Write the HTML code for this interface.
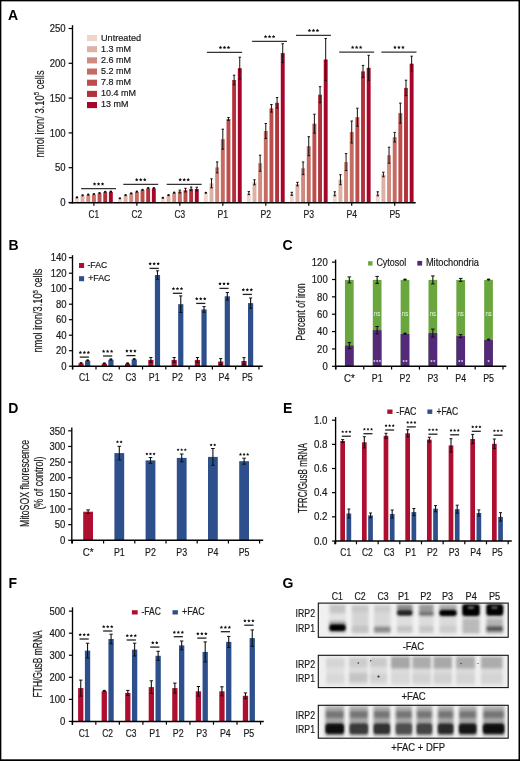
<!DOCTYPE html><html><head><meta charset="utf-8"><style>html,body{margin:0;padding:0;background:#fff;overflow:hidden}svg{display:block;will-change:transform}</style></head><body>
<svg width="520" height="761" viewBox="0 0 520 761" font-family="'Liberation Sans', sans-serif">
<defs><filter id="b1" x="-30%" y="-50%" width="160%" height="200%"><feGaussianBlur stdDeviation="1.6"/></filter><filter id="b3" x="-30%" y="-80%" width="160%" height="260%"><feGaussianBlur stdDeviation="0.9"/></filter><filter id="b2" x="-30%" y="-50%" width="160%" height="200%"><feGaussianBlur stdDeviation="0.8"/></filter></defs>
<rect x="0.00" y="0.00" width="520.00" height="761.00" fill="#fff"/>
<rect x="0.00" y="0.00" width="520.00" height="1.35" fill="#000"/>
<rect x="0.00" y="0.00" width="1.35" height="761.00" fill="#000"/>
<rect x="518.50" y="0.00" width="1.50" height="761.00" fill="#000"/>
<rect x="0.00" y="759.30" width="520.00" height="1.70" fill="#000"/>
<text x="8.00" y="19.60" font-size="14.0" font-weight="bold" fill="#000">A</text>
<text x="8.60" y="249.60" font-size="14.0" font-weight="bold" fill="#000">B</text>
<text x="282.60" y="249.80" font-size="14.0" font-weight="bold" fill="#000">C</text>
<text x="8.20" y="413.30" font-size="14.0" font-weight="bold" fill="#000">D</text>
<text x="283.00" y="413.30" font-size="14.0" font-weight="bold" fill="#000">E</text>
<text x="8.60" y="588.00" font-size="14.0" font-weight="bold" fill="#000">F</text>
<text x="282.40" y="588.20" font-size="14.0" font-weight="bold" fill="#000">G</text>
<line x1="68.60" y1="202.50" x2="72.00" y2="202.50" stroke="#000" stroke-width="1.2"/>
<text x="65.60" y="206.20" font-size="10.6" text-anchor="end" textLength="5.30" lengthAdjust="spacingAndGlyphs" fill="#1a1a1a" stroke="#1a1a1a" stroke-width="0.2">0</text>
<line x1="68.60" y1="167.70" x2="72.00" y2="167.70" stroke="#000" stroke-width="1.2"/>
<text x="65.60" y="171.40" font-size="10.6" text-anchor="end" textLength="10.60" lengthAdjust="spacingAndGlyphs" fill="#1a1a1a" stroke="#1a1a1a" stroke-width="0.2">50</text>
<line x1="68.60" y1="132.90" x2="72.00" y2="132.90" stroke="#000" stroke-width="1.2"/>
<text x="65.60" y="136.60" font-size="10.6" text-anchor="end" textLength="15.90" lengthAdjust="spacingAndGlyphs" fill="#1a1a1a" stroke="#1a1a1a" stroke-width="0.2">100</text>
<line x1="68.60" y1="98.10" x2="72.00" y2="98.10" stroke="#000" stroke-width="1.2"/>
<text x="65.60" y="101.80" font-size="10.6" text-anchor="end" textLength="15.90" lengthAdjust="spacingAndGlyphs" fill="#1a1a1a" stroke="#1a1a1a" stroke-width="0.2">150</text>
<line x1="68.60" y1="63.30" x2="72.00" y2="63.30" stroke="#000" stroke-width="1.2"/>
<text x="65.60" y="67.00" font-size="10.6" text-anchor="end" textLength="15.90" lengthAdjust="spacingAndGlyphs" fill="#1a1a1a" stroke="#1a1a1a" stroke-width="0.2">200</text>
<line x1="68.60" y1="28.50" x2="72.00" y2="28.50" stroke="#000" stroke-width="1.2"/>
<text x="65.60" y="32.20" font-size="10.6" text-anchor="end" textLength="15.90" lengthAdjust="spacingAndGlyphs" fill="#1a1a1a" stroke="#1a1a1a" stroke-width="0.2">250</text>
<line x1="93.90" y1="202.50" x2="93.90" y2="205.70" stroke="#000" stroke-width="1.2"/>
<text x="93.90" y="218.00" font-size="10.8" text-anchor="middle" textLength="10.60" lengthAdjust="spacingAndGlyphs" fill="#1a1a1a" stroke="#1a1a1a" stroke-width="0.2">C1</text>
<rect x="75.00" y="197.70" width="3.90" height="4.80" fill="#f0d5cc"/>
<ellipse cx="76.95" cy="197.40" rx="1.30" ry="1.15" fill="#111"/>
<rect x="80.65" y="195.60" width="3.90" height="6.90" fill="#deb1a6"/>
<ellipse cx="82.60" cy="195.30" rx="1.30" ry="1.15" fill="#111"/>
<rect x="86.30" y="195.00" width="3.90" height="7.50" fill="#d08b7e"/>
<ellipse cx="88.25" cy="194.70" rx="1.30" ry="1.15" fill="#111"/>
<rect x="91.95" y="194.40" width="3.90" height="8.10" fill="#c56b62"/>
<ellipse cx="93.90" cy="194.10" rx="1.30" ry="1.15" fill="#111"/>
<rect x="97.60" y="193.40" width="3.90" height="9.10" fill="#bc4d4b"/>
<ellipse cx="99.55" cy="193.10" rx="1.30" ry="1.15" fill="#111"/>
<rect x="103.25" y="192.20" width="3.90" height="10.30" fill="#b1323c"/>
<ellipse cx="105.20" cy="191.90" rx="1.30" ry="1.15" fill="#111"/>
<rect x="108.90" y="191.90" width="3.90" height="10.60" fill="#a8052b"/>
<ellipse cx="110.85" cy="191.60" rx="1.30" ry="1.15" fill="#111"/>
<line x1="81.10" y1="188.70" x2="116.00" y2="188.70" stroke="#333" stroke-width="1.3"/>
<polygon points="94.55,182.15 95.09,183.25 96.31,183.43 95.43,184.29 95.64,185.50 94.55,184.93 93.46,185.50 93.67,184.29 92.79,183.43 94.01,183.25" fill="#111"/>
<polygon points="98.55,182.15 99.09,183.25 100.31,183.43 99.43,184.29 99.64,185.50 98.55,184.93 97.46,185.50 97.67,184.29 96.79,183.43 98.01,183.25" fill="#111"/>
<polygon points="102.55,182.15 103.09,183.25 104.31,183.43 103.43,184.29 103.64,185.50 102.55,184.93 101.46,185.50 101.67,184.29 100.79,183.43 102.01,183.25" fill="#111"/>
<line x1="136.87" y1="202.50" x2="136.87" y2="205.70" stroke="#000" stroke-width="1.2"/>
<text x="136.87" y="218.00" font-size="10.8" text-anchor="middle" textLength="10.60" lengthAdjust="spacingAndGlyphs" fill="#1a1a1a" stroke="#1a1a1a" stroke-width="0.2">C2</text>
<rect x="117.97" y="198.60" width="3.90" height="3.90" fill="#f0d5cc"/>
<ellipse cx="119.92" cy="198.30" rx="1.30" ry="1.15" fill="#111"/>
<rect x="123.62" y="195.50" width="3.90" height="7.00" fill="#deb1a6"/>
<ellipse cx="125.57" cy="195.20" rx="1.30" ry="1.15" fill="#111"/>
<rect x="129.27" y="193.70" width="3.90" height="8.80" fill="#d08b7e"/>
<ellipse cx="131.22" cy="193.40" rx="1.30" ry="1.15" fill="#111"/>
<rect x="134.92" y="192.00" width="3.90" height="10.50" fill="#c56b62"/>
<ellipse cx="136.87" cy="191.70" rx="1.30" ry="1.15" fill="#111"/>
<rect x="140.57" y="190.20" width="3.90" height="12.30" fill="#bc4d4b"/>
<ellipse cx="142.52" cy="189.90" rx="1.30" ry="1.15" fill="#111"/>
<rect x="146.22" y="188.40" width="3.90" height="14.10" fill="#b1323c"/>
<ellipse cx="148.17" cy="188.10" rx="1.30" ry="1.15" fill="#111"/>
<rect x="151.87" y="188.40" width="3.90" height="14.10" fill="#a8052b"/>
<ellipse cx="153.82" cy="188.10" rx="1.30" ry="1.15" fill="#111"/>
<line x1="123.30" y1="184.40" x2="158.20" y2="184.40" stroke="#333" stroke-width="1.3"/>
<polygon points="136.75,177.85 137.29,178.95 138.51,179.13 137.63,179.99 137.84,181.20 136.75,180.63 135.66,181.20 135.87,179.99 134.99,179.13 136.21,178.95" fill="#111"/>
<polygon points="140.75,177.85 141.29,178.95 142.51,179.13 141.63,179.99 141.84,181.20 140.75,180.63 139.66,181.20 139.87,179.99 138.99,179.13 140.21,178.95" fill="#111"/>
<polygon points="144.75,177.85 145.29,178.95 146.51,179.13 145.63,179.99 145.84,181.20 144.75,180.63 143.66,181.20 143.87,179.99 142.99,179.13 144.21,178.95" fill="#111"/>
<line x1="179.84" y1="202.50" x2="179.84" y2="205.70" stroke="#000" stroke-width="1.2"/>
<text x="179.84" y="218.00" font-size="10.8" text-anchor="middle" textLength="10.60" lengthAdjust="spacingAndGlyphs" fill="#1a1a1a" stroke="#1a1a1a" stroke-width="0.2">C3</text>
<rect x="160.94" y="198.10" width="3.90" height="4.40" fill="#f0d5cc"/>
<ellipse cx="162.89" cy="197.80" rx="1.30" ry="1.15" fill="#111"/>
<rect x="166.59" y="195.50" width="3.90" height="7.00" fill="#deb1a6"/>
<ellipse cx="168.54" cy="195.20" rx="1.30" ry="1.15" fill="#111"/>
<rect x="172.24" y="193.00" width="3.90" height="9.50" fill="#d08b7e"/>
<ellipse cx="174.19" cy="192.70" rx="1.30" ry="1.15" fill="#111"/>
<rect x="177.89" y="191.50" width="3.90" height="11.00" fill="#c56b62"/>
<line x1="179.84" y1="190.10" x2="179.84" y2="192.90" stroke="#111" stroke-width="1.0"/>
<line x1="178.64" y1="190.10" x2="181.04" y2="190.10" stroke="#111" stroke-width="1.0"/>
<line x1="178.64" y1="192.90" x2="181.04" y2="192.90" stroke="#111" stroke-width="1.0"/>
<rect x="183.54" y="190.10" width="3.90" height="12.40" fill="#bc4d4b"/>
<line x1="185.49" y1="188.30" x2="185.49" y2="191.90" stroke="#111" stroke-width="1.0"/>
<line x1="184.29" y1="188.30" x2="186.69" y2="188.30" stroke="#111" stroke-width="1.0"/>
<line x1="184.29" y1="191.90" x2="186.69" y2="191.90" stroke="#111" stroke-width="1.0"/>
<rect x="189.19" y="188.80" width="3.90" height="13.70" fill="#b1323c"/>
<line x1="191.14" y1="187.00" x2="191.14" y2="190.60" stroke="#111" stroke-width="1.0"/>
<line x1="189.94" y1="187.00" x2="192.34" y2="187.00" stroke="#111" stroke-width="1.0"/>
<line x1="189.94" y1="190.60" x2="192.34" y2="190.60" stroke="#111" stroke-width="1.0"/>
<rect x="194.84" y="189.00" width="3.90" height="13.50" fill="#a8052b"/>
<line x1="196.79" y1="187.20" x2="196.79" y2="190.80" stroke="#111" stroke-width="1.0"/>
<line x1="195.59" y1="187.20" x2="197.99" y2="187.20" stroke="#111" stroke-width="1.0"/>
<line x1="195.59" y1="190.80" x2="197.99" y2="190.80" stroke="#111" stroke-width="1.0"/>
<line x1="166.70" y1="184.40" x2="201.70" y2="184.40" stroke="#333" stroke-width="1.3"/>
<polygon points="180.20,177.85 180.74,178.95 181.96,179.13 181.08,179.99 181.29,181.20 180.20,180.63 179.11,181.20 179.32,179.99 178.44,179.13 179.66,178.95" fill="#111"/>
<polygon points="184.20,177.85 184.74,178.95 185.96,179.13 185.08,179.99 185.29,181.20 184.20,180.63 183.11,181.20 183.32,179.99 182.44,179.13 183.66,178.95" fill="#111"/>
<polygon points="188.20,177.85 188.74,178.95 189.96,179.13 189.08,179.99 189.29,181.20 188.20,180.63 187.11,181.20 187.32,179.99 186.44,179.13 187.66,178.95" fill="#111"/>
<line x1="222.81" y1="202.50" x2="222.81" y2="205.70" stroke="#000" stroke-width="1.2"/>
<text x="222.81" y="218.00" font-size="10.8" text-anchor="middle" textLength="10.60" lengthAdjust="spacingAndGlyphs" fill="#1a1a1a" stroke="#1a1a1a" stroke-width="0.2">P1</text>
<rect x="203.91" y="193.10" width="3.90" height="9.40" fill="#f0d5cc"/>
<ellipse cx="205.86" cy="192.80" rx="1.30" ry="1.15" fill="#111"/>
<rect x="209.56" y="183.30" width="3.90" height="19.20" fill="#deb1a6"/>
<line x1="211.51" y1="178.80" x2="211.51" y2="187.80" stroke="#111" stroke-width="1.0"/>
<line x1="210.31" y1="178.80" x2="212.71" y2="178.80" stroke="#111" stroke-width="1.0"/>
<line x1="210.31" y1="187.80" x2="212.71" y2="187.80" stroke="#111" stroke-width="1.0"/>
<rect x="215.21" y="167.40" width="3.90" height="35.10" fill="#d08b7e"/>
<line x1="217.16" y1="161.90" x2="217.16" y2="172.90" stroke="#111" stroke-width="1.0"/>
<line x1="215.96" y1="161.90" x2="218.36" y2="161.90" stroke="#111" stroke-width="1.0"/>
<line x1="215.96" y1="172.90" x2="218.36" y2="172.90" stroke="#111" stroke-width="1.0"/>
<rect x="220.86" y="139.20" width="3.90" height="63.30" fill="#c56b62"/>
<line x1="222.81" y1="129.20" x2="222.81" y2="149.20" stroke="#111" stroke-width="1.0"/>
<line x1="221.61" y1="129.20" x2="224.01" y2="129.20" stroke="#111" stroke-width="1.0"/>
<line x1="221.61" y1="149.20" x2="224.01" y2="149.20" stroke="#111" stroke-width="1.0"/>
<rect x="226.51" y="119.00" width="3.90" height="83.50" fill="#bc4d4b"/>
<line x1="228.46" y1="117.50" x2="228.46" y2="120.50" stroke="#111" stroke-width="1.0"/>
<line x1="227.26" y1="117.50" x2="229.66" y2="117.50" stroke="#111" stroke-width="1.0"/>
<line x1="227.26" y1="120.50" x2="229.66" y2="120.50" stroke="#111" stroke-width="1.0"/>
<rect x="232.16" y="80.00" width="3.90" height="122.50" fill="#b1323c"/>
<line x1="234.11" y1="75.20" x2="234.11" y2="84.80" stroke="#111" stroke-width="1.0"/>
<line x1="232.91" y1="75.20" x2="235.31" y2="75.20" stroke="#111" stroke-width="1.0"/>
<line x1="232.91" y1="84.80" x2="235.31" y2="84.80" stroke="#111" stroke-width="1.0"/>
<rect x="237.81" y="68.20" width="3.90" height="134.30" fill="#a8052b"/>
<line x1="239.76" y1="57.20" x2="239.76" y2="79.20" stroke="#111" stroke-width="1.0"/>
<line x1="238.56" y1="57.20" x2="240.96" y2="57.20" stroke="#111" stroke-width="1.0"/>
<line x1="238.56" y1="79.20" x2="240.96" y2="79.20" stroke="#111" stroke-width="1.0"/>
<line x1="206.90" y1="52.30" x2="242.10" y2="52.30" stroke="#333" stroke-width="1.3"/>
<polygon points="220.50,45.75 221.04,46.85 222.26,47.03 221.38,47.89 221.59,49.10 220.50,48.52 219.41,49.10 219.62,47.89 218.74,47.03 219.96,46.85" fill="#111"/>
<polygon points="224.50,45.75 225.04,46.85 226.26,47.03 225.38,47.89 225.59,49.10 224.50,48.52 223.41,49.10 223.62,47.89 222.74,47.03 223.96,46.85" fill="#111"/>
<polygon points="228.50,45.75 229.04,46.85 230.26,47.03 229.38,47.89 229.59,49.10 228.50,48.52 227.41,49.10 227.62,47.89 226.74,47.03 227.96,46.85" fill="#111"/>
<line x1="265.78" y1="202.50" x2="265.78" y2="205.70" stroke="#000" stroke-width="1.2"/>
<text x="265.78" y="218.00" font-size="10.8" text-anchor="middle" textLength="10.60" lengthAdjust="spacingAndGlyphs" fill="#1a1a1a" stroke="#1a1a1a" stroke-width="0.2">P2</text>
<rect x="246.88" y="193.10" width="3.90" height="9.40" fill="#f0d5cc"/>
<line x1="248.83" y1="191.60" x2="248.83" y2="194.60" stroke="#111" stroke-width="1.0"/>
<line x1="247.63" y1="191.60" x2="250.03" y2="191.60" stroke="#111" stroke-width="1.0"/>
<line x1="247.63" y1="194.60" x2="250.03" y2="194.60" stroke="#111" stroke-width="1.0"/>
<rect x="252.53" y="182.30" width="3.90" height="20.20" fill="#deb1a6"/>
<line x1="254.48" y1="179.80" x2="254.48" y2="184.80" stroke="#111" stroke-width="1.0"/>
<line x1="253.28" y1="179.80" x2="255.68" y2="179.80" stroke="#111" stroke-width="1.0"/>
<line x1="253.28" y1="184.80" x2="255.68" y2="184.80" stroke="#111" stroke-width="1.0"/>
<rect x="258.18" y="163.20" width="3.90" height="39.30" fill="#d08b7e"/>
<line x1="260.13" y1="155.20" x2="260.13" y2="171.20" stroke="#111" stroke-width="1.0"/>
<line x1="258.93" y1="155.20" x2="261.33" y2="155.20" stroke="#111" stroke-width="1.0"/>
<line x1="258.93" y1="171.20" x2="261.33" y2="171.20" stroke="#111" stroke-width="1.0"/>
<rect x="263.83" y="131.00" width="3.90" height="71.50" fill="#c56b62"/>
<line x1="265.78" y1="123.50" x2="265.78" y2="138.50" stroke="#111" stroke-width="1.0"/>
<line x1="264.58" y1="123.50" x2="266.98" y2="123.50" stroke="#111" stroke-width="1.0"/>
<line x1="264.58" y1="138.50" x2="266.98" y2="138.50" stroke="#111" stroke-width="1.0"/>
<rect x="269.48" y="108.30" width="3.90" height="94.20" fill="#bc4d4b"/>
<line x1="271.43" y1="104.50" x2="271.43" y2="112.10" stroke="#111" stroke-width="1.0"/>
<line x1="270.23" y1="104.50" x2="272.63" y2="104.50" stroke="#111" stroke-width="1.0"/>
<line x1="270.23" y1="112.10" x2="272.63" y2="112.10" stroke="#111" stroke-width="1.0"/>
<rect x="275.13" y="102.80" width="3.90" height="99.70" fill="#b1323c"/>
<line x1="277.08" y1="97.50" x2="277.08" y2="108.10" stroke="#111" stroke-width="1.0"/>
<line x1="275.88" y1="97.50" x2="278.28" y2="97.50" stroke="#111" stroke-width="1.0"/>
<line x1="275.88" y1="108.10" x2="278.28" y2="108.10" stroke="#111" stroke-width="1.0"/>
<rect x="280.78" y="53.10" width="3.90" height="149.40" fill="#a8052b"/>
<line x1="282.73" y1="43.70" x2="282.73" y2="62.50" stroke="#111" stroke-width="1.0"/>
<line x1="281.53" y1="43.70" x2="283.93" y2="43.70" stroke="#111" stroke-width="1.0"/>
<line x1="281.53" y1="62.50" x2="283.93" y2="62.50" stroke="#111" stroke-width="1.0"/>
<line x1="252.10" y1="41.40" x2="287.00" y2="41.40" stroke="#333" stroke-width="1.3"/>
<polygon points="265.55,34.85 266.09,35.95 267.31,36.13 266.43,36.99 266.64,38.20 265.55,37.62 264.46,38.20 264.67,36.99 263.79,36.13 265.01,35.95" fill="#111"/>
<polygon points="269.55,34.85 270.09,35.95 271.31,36.13 270.43,36.99 270.64,38.20 269.55,37.62 268.46,38.20 268.67,36.99 267.79,36.13 269.01,35.95" fill="#111"/>
<polygon points="273.55,34.85 274.09,35.95 275.31,36.13 274.43,36.99 274.64,38.20 273.55,37.62 272.46,38.20 272.67,36.99 271.79,36.13 273.01,35.95" fill="#111"/>
<line x1="308.75" y1="202.50" x2="308.75" y2="205.70" stroke="#000" stroke-width="1.2"/>
<text x="308.75" y="218.00" font-size="10.8" text-anchor="middle" textLength="10.60" lengthAdjust="spacingAndGlyphs" fill="#1a1a1a" stroke="#1a1a1a" stroke-width="0.2">P3</text>
<rect x="289.85" y="193.80" width="3.90" height="8.70" fill="#f0d5cc"/>
<line x1="291.80" y1="192.30" x2="291.80" y2="195.30" stroke="#111" stroke-width="1.0"/>
<line x1="290.60" y1="192.30" x2="293.00" y2="192.30" stroke="#111" stroke-width="1.0"/>
<line x1="290.60" y1="195.30" x2="293.00" y2="195.30" stroke="#111" stroke-width="1.0"/>
<rect x="295.50" y="184.10" width="3.90" height="18.40" fill="#deb1a6"/>
<line x1="297.45" y1="182.30" x2="297.45" y2="185.90" stroke="#111" stroke-width="1.0"/>
<line x1="296.25" y1="182.30" x2="298.65" y2="182.30" stroke="#111" stroke-width="1.0"/>
<line x1="296.25" y1="185.90" x2="298.65" y2="185.90" stroke="#111" stroke-width="1.0"/>
<rect x="301.15" y="168.30" width="3.90" height="34.20" fill="#d08b7e"/>
<line x1="303.10" y1="162.00" x2="303.10" y2="174.60" stroke="#111" stroke-width="1.0"/>
<line x1="301.90" y1="162.00" x2="304.30" y2="162.00" stroke="#111" stroke-width="1.0"/>
<line x1="301.90" y1="174.60" x2="304.30" y2="174.60" stroke="#111" stroke-width="1.0"/>
<rect x="306.80" y="146.20" width="3.90" height="56.30" fill="#c56b62"/>
<line x1="308.75" y1="136.70" x2="308.75" y2="155.70" stroke="#111" stroke-width="1.0"/>
<line x1="307.55" y1="136.70" x2="309.95" y2="136.70" stroke="#111" stroke-width="1.0"/>
<line x1="307.55" y1="155.70" x2="309.95" y2="155.70" stroke="#111" stroke-width="1.0"/>
<rect x="312.45" y="123.70" width="3.90" height="78.80" fill="#bc4d4b"/>
<line x1="314.40" y1="114.20" x2="314.40" y2="133.20" stroke="#111" stroke-width="1.0"/>
<line x1="313.20" y1="114.20" x2="315.60" y2="114.20" stroke="#111" stroke-width="1.0"/>
<line x1="313.20" y1="133.20" x2="315.60" y2="133.20" stroke="#111" stroke-width="1.0"/>
<rect x="318.10" y="94.70" width="3.90" height="107.80" fill="#b1323c"/>
<line x1="320.05" y1="86.70" x2="320.05" y2="102.70" stroke="#111" stroke-width="1.0"/>
<line x1="318.85" y1="86.70" x2="321.25" y2="86.70" stroke="#111" stroke-width="1.0"/>
<line x1="318.85" y1="102.70" x2="321.25" y2="102.70" stroke="#111" stroke-width="1.0"/>
<rect x="323.75" y="59.50" width="3.90" height="143.00" fill="#a8052b"/>
<line x1="325.70" y1="38.50" x2="325.70" y2="80.50" stroke="#111" stroke-width="1.0"/>
<line x1="324.50" y1="38.50" x2="326.90" y2="38.50" stroke="#111" stroke-width="1.0"/>
<line x1="324.50" y1="80.50" x2="326.90" y2="80.50" stroke="#111" stroke-width="1.0"/>
<line x1="296.00" y1="35.30" x2="330.90" y2="35.30" stroke="#333" stroke-width="1.3"/>
<polygon points="309.45,28.75 309.99,29.85 311.21,30.03 310.33,30.89 310.54,32.10 309.45,31.52 308.36,32.10 308.57,30.89 307.69,30.03 308.91,29.85" fill="#111"/>
<polygon points="313.45,28.75 313.99,29.85 315.21,30.03 314.33,30.89 314.54,32.10 313.45,31.52 312.36,32.10 312.57,30.89 311.69,30.03 312.91,29.85" fill="#111"/>
<polygon points="317.45,28.75 317.99,29.85 319.21,30.03 318.33,30.89 318.54,32.10 317.45,31.52 316.36,32.10 316.57,30.89 315.69,30.03 316.91,29.85" fill="#111"/>
<line x1="351.72" y1="202.50" x2="351.72" y2="205.70" stroke="#000" stroke-width="1.2"/>
<text x="351.72" y="218.00" font-size="10.8" text-anchor="middle" textLength="10.60" lengthAdjust="spacingAndGlyphs" fill="#1a1a1a" stroke="#1a1a1a" stroke-width="0.2">P4</text>
<rect x="332.82" y="193.80" width="3.90" height="8.70" fill="#f0d5cc"/>
<line x1="334.77" y1="191.80" x2="334.77" y2="195.80" stroke="#111" stroke-width="1.0"/>
<line x1="333.57" y1="191.80" x2="335.97" y2="191.80" stroke="#111" stroke-width="1.0"/>
<line x1="333.57" y1="195.80" x2="335.97" y2="195.80" stroke="#111" stroke-width="1.0"/>
<rect x="338.47" y="179.70" width="3.90" height="22.80" fill="#deb1a6"/>
<line x1="340.42" y1="174.70" x2="340.42" y2="184.70" stroke="#111" stroke-width="1.0"/>
<line x1="339.22" y1="174.70" x2="341.62" y2="174.70" stroke="#111" stroke-width="1.0"/>
<line x1="339.22" y1="184.70" x2="341.62" y2="184.70" stroke="#111" stroke-width="1.0"/>
<rect x="344.12" y="162.10" width="3.90" height="40.40" fill="#d08b7e"/>
<line x1="346.07" y1="153.60" x2="346.07" y2="170.60" stroke="#111" stroke-width="1.0"/>
<line x1="344.87" y1="153.60" x2="347.27" y2="153.60" stroke="#111" stroke-width="1.0"/>
<line x1="344.87" y1="170.60" x2="347.27" y2="170.60" stroke="#111" stroke-width="1.0"/>
<rect x="349.77" y="132.00" width="3.90" height="70.50" fill="#c56b62"/>
<line x1="351.72" y1="121.00" x2="351.72" y2="143.00" stroke="#111" stroke-width="1.0"/>
<line x1="350.52" y1="121.00" x2="352.92" y2="121.00" stroke="#111" stroke-width="1.0"/>
<line x1="350.52" y1="143.00" x2="352.92" y2="143.00" stroke="#111" stroke-width="1.0"/>
<rect x="355.42" y="117.20" width="3.90" height="85.30" fill="#bc4d4b"/>
<line x1="357.37" y1="108.20" x2="357.37" y2="126.20" stroke="#111" stroke-width="1.0"/>
<line x1="356.17" y1="108.20" x2="358.57" y2="108.20" stroke="#111" stroke-width="1.0"/>
<line x1="356.17" y1="126.20" x2="358.57" y2="126.20" stroke="#111" stroke-width="1.0"/>
<rect x="361.07" y="71.40" width="3.90" height="131.10" fill="#b1323c"/>
<line x1="363.02" y1="65.40" x2="363.02" y2="77.40" stroke="#111" stroke-width="1.0"/>
<line x1="361.82" y1="65.40" x2="364.22" y2="65.40" stroke="#111" stroke-width="1.0"/>
<line x1="361.82" y1="77.40" x2="364.22" y2="77.40" stroke="#111" stroke-width="1.0"/>
<rect x="366.72" y="67.80" width="3.90" height="134.70" fill="#a8052b"/>
<line x1="368.67" y1="55.30" x2="368.67" y2="80.30" stroke="#111" stroke-width="1.0"/>
<line x1="367.47" y1="55.30" x2="369.87" y2="55.30" stroke="#111" stroke-width="1.0"/>
<line x1="367.47" y1="80.30" x2="369.87" y2="80.30" stroke="#111" stroke-width="1.0"/>
<line x1="339.20" y1="52.10" x2="374.10" y2="52.10" stroke="#333" stroke-width="1.3"/>
<polygon points="352.65,45.55 353.19,46.65 354.41,46.83 353.53,47.69 353.74,48.90 352.65,48.32 351.56,48.90 351.77,47.69 350.89,46.83 352.11,46.65" fill="#111"/>
<polygon points="356.65,45.55 357.19,46.65 358.41,46.83 357.53,47.69 357.74,48.90 356.65,48.32 355.56,48.90 355.77,47.69 354.89,46.83 356.11,46.65" fill="#111"/>
<polygon points="360.65,45.55 361.19,46.65 362.41,46.83 361.53,47.69 361.74,48.90 360.65,48.32 359.56,48.90 359.77,47.69 358.89,46.83 360.11,46.65" fill="#111"/>
<line x1="394.69" y1="202.50" x2="394.69" y2="205.70" stroke="#000" stroke-width="1.2"/>
<text x="394.69" y="218.00" font-size="10.8" text-anchor="middle" textLength="10.60" lengthAdjust="spacingAndGlyphs" fill="#1a1a1a" stroke="#1a1a1a" stroke-width="0.2">P5</text>
<rect x="375.79" y="193.80" width="3.90" height="8.70" fill="#f0d5cc"/>
<line x1="377.74" y1="191.80" x2="377.74" y2="195.80" stroke="#111" stroke-width="1.0"/>
<line x1="376.54" y1="191.80" x2="378.94" y2="191.80" stroke="#111" stroke-width="1.0"/>
<line x1="376.54" y1="195.80" x2="378.94" y2="195.80" stroke="#111" stroke-width="1.0"/>
<rect x="381.44" y="174.50" width="3.90" height="28.00" fill="#deb1a6"/>
<line x1="383.39" y1="172.20" x2="383.39" y2="176.80" stroke="#111" stroke-width="1.0"/>
<line x1="382.19" y1="172.20" x2="384.59" y2="172.20" stroke="#111" stroke-width="1.0"/>
<line x1="382.19" y1="176.80" x2="384.59" y2="176.80" stroke="#111" stroke-width="1.0"/>
<rect x="387.09" y="155.20" width="3.90" height="47.30" fill="#d08b7e"/>
<line x1="389.04" y1="147.20" x2="389.04" y2="163.20" stroke="#111" stroke-width="1.0"/>
<line x1="387.84" y1="147.20" x2="390.24" y2="147.20" stroke="#111" stroke-width="1.0"/>
<line x1="387.84" y1="163.20" x2="390.24" y2="163.20" stroke="#111" stroke-width="1.0"/>
<rect x="392.74" y="137.20" width="3.90" height="65.30" fill="#c56b62"/>
<line x1="394.69" y1="132.40" x2="394.69" y2="142.00" stroke="#111" stroke-width="1.0"/>
<line x1="393.49" y1="132.40" x2="395.89" y2="132.40" stroke="#111" stroke-width="1.0"/>
<line x1="393.49" y1="142.00" x2="395.89" y2="142.00" stroke="#111" stroke-width="1.0"/>
<rect x="398.39" y="113.10" width="3.90" height="89.40" fill="#bc4d4b"/>
<line x1="400.34" y1="103.10" x2="400.34" y2="123.10" stroke="#111" stroke-width="1.0"/>
<line x1="399.14" y1="103.10" x2="401.54" y2="103.10" stroke="#111" stroke-width="1.0"/>
<line x1="399.14" y1="123.10" x2="401.54" y2="123.10" stroke="#111" stroke-width="1.0"/>
<rect x="404.04" y="87.90" width="3.90" height="114.60" fill="#b1323c"/>
<line x1="405.99" y1="80.20" x2="405.99" y2="95.60" stroke="#111" stroke-width="1.0"/>
<line x1="404.79" y1="80.20" x2="407.19" y2="80.20" stroke="#111" stroke-width="1.0"/>
<line x1="404.79" y1="95.60" x2="407.19" y2="95.60" stroke="#111" stroke-width="1.0"/>
<rect x="409.69" y="63.70" width="3.90" height="138.80" fill="#a8052b"/>
<line x1="411.64" y1="56.20" x2="411.64" y2="71.20" stroke="#111" stroke-width="1.0"/>
<line x1="410.44" y1="56.20" x2="412.84" y2="56.20" stroke="#111" stroke-width="1.0"/>
<line x1="410.44" y1="71.20" x2="412.84" y2="71.20" stroke="#111" stroke-width="1.0"/>
<line x1="381.40" y1="52.10" x2="416.50" y2="52.10" stroke="#333" stroke-width="1.3"/>
<polygon points="394.95,45.55 395.49,46.65 396.71,46.83 395.83,47.69 396.04,48.90 394.95,48.32 393.86,48.90 394.07,47.69 393.19,46.83 394.41,46.65" fill="#111"/>
<polygon points="398.95,45.55 399.49,46.65 400.71,46.83 399.83,47.69 400.04,48.90 398.95,48.32 397.86,48.90 398.07,47.69 397.19,46.83 398.41,46.65" fill="#111"/>
<polygon points="402.95,45.55 403.49,46.65 404.71,46.83 403.83,47.69 404.04,48.90 402.95,48.32 401.86,48.90 402.07,47.69 401.19,46.83 402.41,46.65" fill="#111"/>
<rect x="87.00" y="35.00" width="10.00" height="6.10" fill="#f0d5cc"/>
<text x="101.00" y="41.00" font-size="9.2" textLength="40.10" lengthAdjust="spacingAndGlyphs" fill="#1a1a1a" stroke="#1a1a1a" stroke-width="0.2">Untreated</text>
<rect x="87.00" y="46.17" width="10.00" height="6.10" fill="#deb1a6"/>
<text x="101.00" y="52.00" font-size="9.2" textLength="30.00" lengthAdjust="spacingAndGlyphs" fill="#1a1a1a" stroke="#1a1a1a" stroke-width="0.2">1.3 mM</text>
<rect x="87.00" y="57.34" width="10.00" height="6.10" fill="#d08b7e"/>
<text x="101.00" y="63.00" font-size="9.2" textLength="30.00" lengthAdjust="spacingAndGlyphs" fill="#1a1a1a" stroke="#1a1a1a" stroke-width="0.2">2.6 mM</text>
<rect x="87.00" y="68.51" width="10.00" height="6.10" fill="#c56b62"/>
<text x="101.00" y="74.00" font-size="9.2" textLength="30.00" lengthAdjust="spacingAndGlyphs" fill="#1a1a1a" stroke="#1a1a1a" stroke-width="0.2">5.2 mM</text>
<rect x="87.00" y="79.68" width="10.00" height="6.10" fill="#bc4d4b"/>
<text x="101.00" y="85.00" font-size="9.2" textLength="30.00" lengthAdjust="spacingAndGlyphs" fill="#1a1a1a" stroke="#1a1a1a" stroke-width="0.2">7.8 mM</text>
<rect x="87.00" y="90.85" width="10.00" height="6.10" fill="#b1323c"/>
<text x="101.00" y="96.00" font-size="9.2" textLength="35.00" lengthAdjust="spacingAndGlyphs" fill="#1a1a1a" stroke="#1a1a1a" stroke-width="0.2">10.4 mM</text>
<rect x="87.00" y="102.02" width="10.00" height="6.10" fill="#a8052b"/>
<text x="101.00" y="107.00" font-size="9.2" textLength="27.40" lengthAdjust="spacingAndGlyphs" fill="#1a1a1a" stroke="#1a1a1a" stroke-width="0.2">13 mM</text>
<text transform="translate(43.8,113.9) rotate(-90)" x="0" y="0" font-size="12" text-anchor="middle" textLength="87" lengthAdjust="spacingAndGlyphs" fill="#222" stroke="#222" stroke-width="0.2">nmol iron/ 3.10<tspan dy="-4.6" font-size="8">5</tspan><tspan dy="4.6"> cells</tspan></text>
<line x1="68.90" y1="366.20" x2="72.30" y2="366.20" stroke="#000" stroke-width="1.2"/>
<text x="66.60" y="369.90" font-size="10.6" text-anchor="end" textLength="5.30" lengthAdjust="spacingAndGlyphs" fill="#1a1a1a" stroke="#1a1a1a" stroke-width="0.2">0</text>
<line x1="68.90" y1="350.70" x2="72.30" y2="350.70" stroke="#000" stroke-width="1.2"/>
<text x="66.60" y="354.40" font-size="10.6" text-anchor="end" textLength="10.60" lengthAdjust="spacingAndGlyphs" fill="#1a1a1a" stroke="#1a1a1a" stroke-width="0.2">20</text>
<line x1="68.90" y1="335.20" x2="72.30" y2="335.20" stroke="#000" stroke-width="1.2"/>
<text x="66.60" y="338.90" font-size="10.6" text-anchor="end" textLength="10.60" lengthAdjust="spacingAndGlyphs" fill="#1a1a1a" stroke="#1a1a1a" stroke-width="0.2">40</text>
<line x1="68.90" y1="319.70" x2="72.30" y2="319.70" stroke="#000" stroke-width="1.2"/>
<text x="66.60" y="323.40" font-size="10.6" text-anchor="end" textLength="10.60" lengthAdjust="spacingAndGlyphs" fill="#1a1a1a" stroke="#1a1a1a" stroke-width="0.2">60</text>
<line x1="68.90" y1="304.20" x2="72.30" y2="304.20" stroke="#000" stroke-width="1.2"/>
<text x="66.60" y="307.90" font-size="10.6" text-anchor="end" textLength="10.60" lengthAdjust="spacingAndGlyphs" fill="#1a1a1a" stroke="#1a1a1a" stroke-width="0.2">80</text>
<line x1="68.90" y1="288.70" x2="72.30" y2="288.70" stroke="#000" stroke-width="1.2"/>
<text x="66.60" y="292.40" font-size="10.6" text-anchor="end" textLength="15.90" lengthAdjust="spacingAndGlyphs" fill="#1a1a1a" stroke="#1a1a1a" stroke-width="0.2">100</text>
<line x1="68.90" y1="273.20" x2="72.30" y2="273.20" stroke="#000" stroke-width="1.2"/>
<text x="66.60" y="276.90" font-size="10.6" text-anchor="end" textLength="15.90" lengthAdjust="spacingAndGlyphs" fill="#1a1a1a" stroke="#1a1a1a" stroke-width="0.2">120</text>
<line x1="68.90" y1="257.70" x2="72.30" y2="257.70" stroke="#000" stroke-width="1.2"/>
<text x="66.60" y="261.40" font-size="10.6" text-anchor="end" textLength="15.90" lengthAdjust="spacingAndGlyphs" fill="#1a1a1a" stroke="#1a1a1a" stroke-width="0.2">140</text>
<line x1="72.70" y1="366.20" x2="72.70" y2="369.50" stroke="#000" stroke-width="1.2"/>
<line x1="95.98" y1="366.20" x2="95.98" y2="369.50" stroke="#000" stroke-width="1.2"/>
<line x1="119.26" y1="366.20" x2="119.26" y2="369.50" stroke="#000" stroke-width="1.2"/>
<line x1="142.54" y1="366.20" x2="142.54" y2="369.50" stroke="#000" stroke-width="1.2"/>
<line x1="165.82" y1="366.20" x2="165.82" y2="369.50" stroke="#000" stroke-width="1.2"/>
<line x1="189.10" y1="366.20" x2="189.10" y2="369.50" stroke="#000" stroke-width="1.2"/>
<line x1="212.38" y1="366.20" x2="212.38" y2="369.50" stroke="#000" stroke-width="1.2"/>
<line x1="235.66" y1="366.20" x2="235.66" y2="369.50" stroke="#000" stroke-width="1.2"/>
<line x1="258.94" y1="366.20" x2="258.94" y2="369.50" stroke="#000" stroke-width="1.2"/>
<text x="84.34" y="381.30" font-size="10.8" text-anchor="middle" textLength="10.80" lengthAdjust="spacingAndGlyphs" fill="#1a1a1a" stroke="#1a1a1a" stroke-width="0.2">C1</text>
<rect x="78.44" y="363.40" width="5.20" height="2.80" fill="#ae0e30"/>
<ellipse cx="81.04" cy="363.10" rx="1.60" ry="1.15" fill="#111"/>
<rect x="85.04" y="360.60" width="5.20" height="5.60" fill="#2d4f8b"/>
<ellipse cx="87.64" cy="360.30" rx="1.60" ry="1.15" fill="#111"/>
<line x1="79.74" y1="357.10" x2="88.94" y2="357.10" stroke="#222" stroke-width="1.3"/>
<polygon points="80.34,350.70 80.87,351.77 82.05,351.94 81.20,352.78 81.40,353.96 80.34,353.40 79.28,353.96 79.48,352.78 78.63,351.94 79.81,351.77" fill="#111"/>
<polygon points="84.34,350.70 84.87,351.77 86.05,351.94 85.20,352.78 85.40,353.96 84.34,353.40 83.28,353.96 83.48,352.78 82.63,351.94 83.81,351.77" fill="#111"/>
<polygon points="88.34,350.70 88.87,351.77 90.05,351.94 89.20,352.78 89.40,353.96 88.34,353.40 87.28,353.96 87.48,352.78 86.63,351.94 87.81,351.77" fill="#111"/>
<text x="107.62" y="381.30" font-size="10.8" text-anchor="middle" textLength="10.80" lengthAdjust="spacingAndGlyphs" fill="#1a1a1a" stroke="#1a1a1a" stroke-width="0.2">C2</text>
<rect x="101.72" y="363.70" width="5.20" height="2.50" fill="#ae0e30"/>
<ellipse cx="104.32" cy="363.40" rx="1.60" ry="1.15" fill="#111"/>
<rect x="108.32" y="359.80" width="5.20" height="6.40" fill="#2d4f8b"/>
<ellipse cx="110.92" cy="359.50" rx="1.60" ry="1.15" fill="#111"/>
<line x1="103.02" y1="356.00" x2="112.22" y2="356.00" stroke="#222" stroke-width="1.3"/>
<polygon points="103.62,349.60 104.15,350.67 105.33,350.84 104.48,351.68 104.68,352.86 103.62,352.30 102.56,352.86 102.76,351.68 101.91,350.84 103.09,350.67" fill="#111"/>
<polygon points="107.62,349.60 108.15,350.67 109.33,350.84 108.48,351.68 108.68,352.86 107.62,352.30 106.56,352.86 106.76,351.68 105.91,350.84 107.09,350.67" fill="#111"/>
<polygon points="111.62,349.60 112.15,350.67 113.33,350.84 112.48,351.68 112.68,352.86 111.62,352.30 110.56,352.86 110.76,351.68 109.91,350.84 111.09,350.67" fill="#111"/>
<text x="130.90" y="381.30" font-size="10.8" text-anchor="middle" textLength="10.80" lengthAdjust="spacingAndGlyphs" fill="#1a1a1a" stroke="#1a1a1a" stroke-width="0.2">C3</text>
<rect x="125.00" y="363.70" width="5.20" height="2.50" fill="#ae0e30"/>
<ellipse cx="127.60" cy="363.40" rx="1.60" ry="1.15" fill="#111"/>
<rect x="131.60" y="359.50" width="5.20" height="6.70" fill="#2d4f8b"/>
<ellipse cx="134.20" cy="359.20" rx="1.60" ry="1.15" fill="#111"/>
<line x1="126.30" y1="355.60" x2="135.50" y2="355.60" stroke="#222" stroke-width="1.3"/>
<polygon points="126.90,349.20 127.43,350.27 128.61,350.44 127.76,351.28 127.96,352.46 126.90,351.90 125.84,352.46 126.04,351.28 125.19,350.44 126.37,350.27" fill="#111"/>
<polygon points="130.90,349.20 131.43,350.27 132.61,350.44 131.76,351.28 131.96,352.46 130.90,351.90 129.84,352.46 130.04,351.28 129.19,350.44 130.37,350.27" fill="#111"/>
<polygon points="134.90,349.20 135.43,350.27 136.61,350.44 135.76,351.28 135.96,352.46 134.90,351.90 133.84,352.46 134.04,351.28 133.19,350.44 134.37,350.27" fill="#111"/>
<text x="154.18" y="381.30" font-size="10.8" text-anchor="middle" textLength="10.80" lengthAdjust="spacingAndGlyphs" fill="#1a1a1a" stroke="#1a1a1a" stroke-width="0.2">P1</text>
<rect x="148.28" y="359.90" width="5.20" height="6.30" fill="#ae0e30"/>
<line x1="150.88" y1="357.50" x2="150.88" y2="362.30" stroke="#111" stroke-width="1.1"/>
<line x1="149.28" y1="357.50" x2="152.48" y2="357.50" stroke="#111" stroke-width="1.0"/>
<line x1="149.28" y1="362.30" x2="152.48" y2="362.30" stroke="#111" stroke-width="1.0"/>
<rect x="154.88" y="275.00" width="5.20" height="91.20" fill="#2d4f8b"/>
<line x1="157.48" y1="270.80" x2="157.48" y2="279.20" stroke="#111" stroke-width="1.1"/>
<line x1="155.88" y1="270.80" x2="159.08" y2="270.80" stroke="#111" stroke-width="1.0"/>
<line x1="155.88" y1="279.20" x2="159.08" y2="279.20" stroke="#111" stroke-width="1.0"/>
<line x1="149.58" y1="268.40" x2="158.78" y2="268.40" stroke="#222" stroke-width="1.3"/>
<polygon points="150.18,262.00 150.71,263.07 151.89,263.24 151.04,264.08 151.24,265.26 150.18,264.70 149.12,265.26 149.32,264.08 148.47,263.24 149.65,263.07" fill="#111"/>
<polygon points="154.18,262.00 154.71,263.07 155.89,263.24 155.04,264.08 155.24,265.26 154.18,264.70 153.12,265.26 153.32,264.08 152.47,263.24 153.65,263.07" fill="#111"/>
<polygon points="158.18,262.00 158.71,263.07 159.89,263.24 159.04,264.08 159.24,265.26 158.18,264.70 157.12,265.26 157.32,264.08 156.47,263.24 157.65,263.07" fill="#111"/>
<text x="177.46" y="381.30" font-size="10.8" text-anchor="middle" textLength="10.80" lengthAdjust="spacingAndGlyphs" fill="#1a1a1a" stroke="#1a1a1a" stroke-width="0.2">P2</text>
<rect x="171.56" y="359.90" width="5.20" height="6.30" fill="#ae0e30"/>
<line x1="174.16" y1="357.50" x2="174.16" y2="362.30" stroke="#111" stroke-width="1.1"/>
<line x1="172.56" y1="357.50" x2="175.76" y2="357.50" stroke="#111" stroke-width="1.0"/>
<line x1="172.56" y1="362.30" x2="175.76" y2="362.30" stroke="#111" stroke-width="1.0"/>
<rect x="178.16" y="304.20" width="5.20" height="62.00" fill="#2d4f8b"/>
<line x1="180.76" y1="295.90" x2="180.76" y2="312.50" stroke="#111" stroke-width="1.1"/>
<line x1="179.16" y1="295.90" x2="182.36" y2="295.90" stroke="#111" stroke-width="1.0"/>
<line x1="179.16" y1="312.50" x2="182.36" y2="312.50" stroke="#111" stroke-width="1.0"/>
<line x1="172.86" y1="293.30" x2="182.06" y2="293.30" stroke="#222" stroke-width="1.3"/>
<polygon points="173.46,286.90 173.99,287.97 175.17,288.14 174.32,288.98 174.52,290.16 173.46,289.60 172.40,290.16 172.60,288.98 171.75,288.14 172.93,287.97" fill="#111"/>
<polygon points="177.46,286.90 177.99,287.97 179.17,288.14 178.32,288.98 178.52,290.16 177.46,289.60 176.40,290.16 176.60,288.98 175.75,288.14 176.93,287.97" fill="#111"/>
<polygon points="181.46,286.90 181.99,287.97 183.17,288.14 182.32,288.98 182.52,290.16 181.46,289.60 180.40,290.16 180.60,288.98 179.75,288.14 180.93,287.97" fill="#111"/>
<text x="200.74" y="381.30" font-size="10.8" text-anchor="middle" textLength="10.80" lengthAdjust="spacingAndGlyphs" fill="#1a1a1a" stroke="#1a1a1a" stroke-width="0.2">P3</text>
<rect x="194.84" y="359.90" width="5.20" height="6.30" fill="#ae0e30"/>
<line x1="197.44" y1="357.50" x2="197.44" y2="362.30" stroke="#111" stroke-width="1.1"/>
<line x1="195.84" y1="357.50" x2="199.04" y2="357.50" stroke="#111" stroke-width="1.0"/>
<line x1="195.84" y1="362.30" x2="199.04" y2="362.30" stroke="#111" stroke-width="1.0"/>
<rect x="201.44" y="309.40" width="5.20" height="56.80" fill="#2d4f8b"/>
<line x1="204.04" y1="306.60" x2="204.04" y2="312.20" stroke="#111" stroke-width="1.1"/>
<line x1="202.44" y1="306.60" x2="205.64" y2="306.60" stroke="#111" stroke-width="1.0"/>
<line x1="202.44" y1="312.20" x2="205.64" y2="312.20" stroke="#111" stroke-width="1.0"/>
<line x1="196.14" y1="303.40" x2="205.34" y2="303.40" stroke="#222" stroke-width="1.3"/>
<polygon points="196.74,297.00 197.27,298.07 198.45,298.24 197.60,299.08 197.80,300.26 196.74,299.70 195.68,300.26 195.88,299.08 195.03,298.24 196.21,298.07" fill="#111"/>
<polygon points="200.74,297.00 201.27,298.07 202.45,298.24 201.60,299.08 201.80,300.26 200.74,299.70 199.68,300.26 199.88,299.08 199.03,298.24 200.21,298.07" fill="#111"/>
<polygon points="204.74,297.00 205.27,298.07 206.45,298.24 205.60,299.08 205.80,300.26 204.74,299.70 203.68,300.26 203.88,299.08 203.03,298.24 204.21,298.07" fill="#111"/>
<text x="224.02" y="381.30" font-size="10.8" text-anchor="middle" textLength="10.80" lengthAdjust="spacingAndGlyphs" fill="#1a1a1a" stroke="#1a1a1a" stroke-width="0.2">P4</text>
<rect x="218.12" y="361.50" width="5.20" height="4.70" fill="#ae0e30"/>
<line x1="220.72" y1="358.60" x2="220.72" y2="364.40" stroke="#111" stroke-width="1.1"/>
<line x1="219.12" y1="358.60" x2="222.32" y2="358.60" stroke="#111" stroke-width="1.0"/>
<line x1="219.12" y1="364.40" x2="222.32" y2="364.40" stroke="#111" stroke-width="1.0"/>
<rect x="224.72" y="296.30" width="5.20" height="69.90" fill="#2d4f8b"/>
<line x1="227.32" y1="292.50" x2="227.32" y2="300.10" stroke="#111" stroke-width="1.1"/>
<line x1="225.72" y1="292.50" x2="228.92" y2="292.50" stroke="#111" stroke-width="1.0"/>
<line x1="225.72" y1="300.10" x2="228.92" y2="300.10" stroke="#111" stroke-width="1.0"/>
<line x1="219.42" y1="288.40" x2="228.62" y2="288.40" stroke="#222" stroke-width="1.3"/>
<polygon points="220.02,282.00 220.55,283.07 221.73,283.24 220.88,284.08 221.08,285.26 220.02,284.70 218.96,285.26 219.16,284.08 218.31,283.24 219.49,283.07" fill="#111"/>
<polygon points="224.02,282.00 224.55,283.07 225.73,283.24 224.88,284.08 225.08,285.26 224.02,284.70 222.96,285.26 223.16,284.08 222.31,283.24 223.49,283.07" fill="#111"/>
<polygon points="228.02,282.00 228.55,283.07 229.73,283.24 228.88,284.08 229.08,285.26 228.02,284.70 226.96,285.26 227.16,284.08 226.31,283.24 227.49,283.07" fill="#111"/>
<text x="247.30" y="381.30" font-size="10.8" text-anchor="middle" textLength="10.80" lengthAdjust="spacingAndGlyphs" fill="#1a1a1a" stroke="#1a1a1a" stroke-width="0.2">P5</text>
<rect x="241.40" y="361.00" width="5.20" height="5.20" fill="#ae0e30"/>
<line x1="244.00" y1="357.60" x2="244.00" y2="364.40" stroke="#111" stroke-width="1.1"/>
<line x1="242.40" y1="357.60" x2="245.60" y2="357.60" stroke="#111" stroke-width="1.0"/>
<line x1="242.40" y1="364.40" x2="245.60" y2="364.40" stroke="#111" stroke-width="1.0"/>
<rect x="248.00" y="303.10" width="5.20" height="63.10" fill="#2d4f8b"/>
<line x1="250.60" y1="298.00" x2="250.60" y2="308.20" stroke="#111" stroke-width="1.1"/>
<line x1="249.00" y1="298.00" x2="252.20" y2="298.00" stroke="#111" stroke-width="1.0"/>
<line x1="249.00" y1="308.20" x2="252.20" y2="308.20" stroke="#111" stroke-width="1.0"/>
<line x1="242.70" y1="294.40" x2="251.90" y2="294.40" stroke="#222" stroke-width="1.3"/>
<polygon points="243.30,288.00 243.83,289.07 245.01,289.24 244.16,290.08 244.36,291.26 243.30,290.70 242.24,291.26 242.44,290.08 241.59,289.24 242.77,289.07" fill="#111"/>
<polygon points="247.30,288.00 247.83,289.07 249.01,289.24 248.16,290.08 248.36,291.26 247.30,290.70 246.24,291.26 246.44,290.08 245.59,289.24 246.77,289.07" fill="#111"/>
<polygon points="251.30,288.00 251.83,289.07 253.01,289.24 252.16,290.08 252.36,291.26 251.30,290.70 250.24,291.26 250.44,290.08 249.59,289.24 250.77,289.07" fill="#111"/>
<rect x="79.00" y="263.00" width="5.10" height="5.00" fill="#ae0e30"/>
<rect x="79.00" y="276.20" width="5.10" height="5.00" fill="#2d4f8b"/>
<text x="87.50" y="268.10" font-size="9.2" textLength="19.60" lengthAdjust="spacingAndGlyphs" fill="#1a1a1a" stroke="#1a1a1a" stroke-width="0.2">-FAC</text>
<text x="88.20" y="281.10" font-size="9.2" textLength="22.20" lengthAdjust="spacingAndGlyphs" fill="#1a1a1a" stroke="#1a1a1a" stroke-width="0.2">+FAC</text>
<text transform="translate(42.4,310.6) rotate(-90)" x="0" y="0" font-size="12" text-anchor="middle" textLength="84" lengthAdjust="spacingAndGlyphs" fill="#222" stroke="#222" stroke-width="0.2">nmol iron/3.10<tspan dy="-4.6" font-size="8">5</tspan><tspan dy="4.6"> cells</tspan></text>
<line x1="332.00" y1="366.30" x2="335.40" y2="366.30" stroke="#000" stroke-width="1.2"/>
<text x="327.70" y="370.00" font-size="10.6" text-anchor="end" textLength="5.30" lengthAdjust="spacingAndGlyphs" fill="#1a1a1a" stroke="#1a1a1a" stroke-width="0.2">0</text>
<line x1="332.00" y1="348.94" x2="335.40" y2="348.94" stroke="#000" stroke-width="1.2"/>
<text x="327.70" y="352.64" font-size="10.6" text-anchor="end" textLength="10.60" lengthAdjust="spacingAndGlyphs" fill="#1a1a1a" stroke="#1a1a1a" stroke-width="0.2">20</text>
<line x1="332.00" y1="331.58" x2="335.40" y2="331.58" stroke="#000" stroke-width="1.2"/>
<text x="327.70" y="335.28" font-size="10.6" text-anchor="end" textLength="10.60" lengthAdjust="spacingAndGlyphs" fill="#1a1a1a" stroke="#1a1a1a" stroke-width="0.2">40</text>
<line x1="332.00" y1="314.22" x2="335.40" y2="314.22" stroke="#000" stroke-width="1.2"/>
<text x="327.70" y="317.92" font-size="10.6" text-anchor="end" textLength="10.60" lengthAdjust="spacingAndGlyphs" fill="#1a1a1a" stroke="#1a1a1a" stroke-width="0.2">60</text>
<line x1="332.00" y1="296.86" x2="335.40" y2="296.86" stroke="#000" stroke-width="1.2"/>
<text x="327.70" y="300.56" font-size="10.6" text-anchor="end" textLength="10.60" lengthAdjust="spacingAndGlyphs" fill="#1a1a1a" stroke="#1a1a1a" stroke-width="0.2">80</text>
<line x1="332.00" y1="279.50" x2="335.40" y2="279.50" stroke="#000" stroke-width="1.2"/>
<text x="327.70" y="283.20" font-size="10.6" text-anchor="end" textLength="15.90" lengthAdjust="spacingAndGlyphs" fill="#1a1a1a" stroke="#1a1a1a" stroke-width="0.2">100</text>
<line x1="332.00" y1="262.14" x2="335.40" y2="262.14" stroke="#000" stroke-width="1.2"/>
<text x="327.70" y="265.84" font-size="10.6" text-anchor="end" textLength="15.90" lengthAdjust="spacingAndGlyphs" fill="#1a1a1a" stroke="#1a1a1a" stroke-width="0.2">120</text>
<line x1="335.90" y1="366.30" x2="335.90" y2="369.60" stroke="#000" stroke-width="1.2"/>
<line x1="363.75" y1="366.30" x2="363.75" y2="369.60" stroke="#000" stroke-width="1.2"/>
<line x1="391.60" y1="366.30" x2="391.60" y2="369.60" stroke="#000" stroke-width="1.2"/>
<line x1="419.45" y1="366.30" x2="419.45" y2="369.60" stroke="#000" stroke-width="1.2"/>
<line x1="447.30" y1="366.30" x2="447.30" y2="369.60" stroke="#000" stroke-width="1.2"/>
<line x1="475.15" y1="366.30" x2="475.15" y2="369.60" stroke="#000" stroke-width="1.2"/>
<line x1="503.00" y1="366.30" x2="503.00" y2="369.60" stroke="#000" stroke-width="1.2"/>
<text x="349.30" y="381.50" font-size="10.8" text-anchor="middle" textLength="10.80" lengthAdjust="spacingAndGlyphs" fill="#1a1a1a" stroke="#1a1a1a" stroke-width="0.2">C*</text>
<rect x="344.95" y="279.90" width="8.70" height="86.40" fill="#69a63d"/>
<rect x="344.95" y="345.60" width="8.70" height="20.70" fill="#55297a"/>
<line x1="349.30" y1="276.90" x2="349.30" y2="282.90" stroke="#111" stroke-width="1.1"/>
<line x1="347.50" y1="276.90" x2="351.10" y2="276.90" stroke="#111" stroke-width="1.0"/>
<line x1="347.50" y1="282.90" x2="351.10" y2="282.90" stroke="#111" stroke-width="1.0"/>
<line x1="349.30" y1="342.60" x2="349.30" y2="348.60" stroke="#111" stroke-width="1.1"/>
<line x1="347.50" y1="342.60" x2="351.10" y2="342.60" stroke="#111" stroke-width="1.0"/>
<line x1="347.50" y1="348.60" x2="351.10" y2="348.60" stroke="#111" stroke-width="1.0"/>
<text x="377.15" y="381.50" font-size="10.8" text-anchor="middle" textLength="10.80" lengthAdjust="spacingAndGlyphs" fill="#1a1a1a" stroke="#1a1a1a" stroke-width="0.2">P1</text>
<rect x="372.80" y="279.90" width="8.70" height="86.40" fill="#69a63d"/>
<rect x="372.80" y="330.20" width="8.70" height="36.10" fill="#55297a"/>
<line x1="377.15" y1="276.40" x2="377.15" y2="283.40" stroke="#111" stroke-width="1.1"/>
<line x1="375.35" y1="276.40" x2="378.95" y2="276.40" stroke="#111" stroke-width="1.0"/>
<line x1="375.35" y1="283.40" x2="378.95" y2="283.40" stroke="#111" stroke-width="1.0"/>
<line x1="377.15" y1="326.50" x2="377.15" y2="333.90" stroke="#111" stroke-width="1.1"/>
<line x1="375.35" y1="326.50" x2="378.95" y2="326.50" stroke="#111" stroke-width="1.0"/>
<line x1="375.35" y1="333.90" x2="378.95" y2="333.90" stroke="#111" stroke-width="1.0"/>
<text x="377.15" y="316.40" font-size="6.9" text-anchor="middle" textLength="6.30" lengthAdjust="spacingAndGlyphs" fill="#eef4e8">ns</text>
<polygon points="374.35,359.70 374.73,360.47 375.59,360.60 374.97,361.20 375.11,362.05 374.35,361.65 373.59,362.05 373.73,361.20 373.11,360.60 373.97,360.47" fill="#e8e0f0"/>
<polygon points="377.15,359.70 377.53,360.47 378.39,360.60 377.77,361.20 377.91,362.05 377.15,361.65 376.39,362.05 376.53,361.20 375.91,360.60 376.77,360.47" fill="#e8e0f0"/>
<polygon points="379.95,359.70 380.33,360.47 381.19,360.60 380.57,361.20 380.71,362.05 379.95,361.65 379.19,362.05 379.33,361.20 378.71,360.60 379.57,360.47" fill="#e8e0f0"/>
<text x="405.00" y="381.50" font-size="10.8" text-anchor="middle" textLength="10.80" lengthAdjust="spacingAndGlyphs" fill="#1a1a1a" stroke="#1a1a1a" stroke-width="0.2">P2</text>
<rect x="400.65" y="279.90" width="8.70" height="86.40" fill="#69a63d"/>
<rect x="400.65" y="334.00" width="8.70" height="32.30" fill="#55297a"/>
<ellipse cx="405.00" cy="279.60" rx="1.80" ry="1.15" fill="#111"/>
<ellipse cx="405.00" cy="333.70" rx="1.80" ry="1.15" fill="#111"/>
<text x="405.00" y="316.40" font-size="6.9" text-anchor="middle" textLength="6.30" lengthAdjust="spacingAndGlyphs" fill="#eef4e8">ns</text>
<polygon points="403.60,359.70 403.98,360.47 404.84,360.60 404.22,361.20 404.36,362.05 403.60,361.65 402.84,362.05 402.98,361.20 402.36,360.60 403.22,360.47" fill="#e8e0f0"/>
<polygon points="406.40,359.70 406.78,360.47 407.64,360.60 407.02,361.20 407.16,362.05 406.40,361.65 405.64,362.05 405.78,361.20 405.16,360.60 406.02,360.47" fill="#e8e0f0"/>
<text x="432.85" y="381.50" font-size="10.8" text-anchor="middle" textLength="10.80" lengthAdjust="spacingAndGlyphs" fill="#1a1a1a" stroke="#1a1a1a" stroke-width="0.2">P3</text>
<rect x="428.50" y="279.90" width="8.70" height="86.40" fill="#69a63d"/>
<rect x="428.50" y="333.10" width="8.70" height="33.20" fill="#55297a"/>
<line x1="432.85" y1="275.90" x2="432.85" y2="283.90" stroke="#111" stroke-width="1.1"/>
<line x1="431.05" y1="275.90" x2="434.65" y2="275.90" stroke="#111" stroke-width="1.0"/>
<line x1="431.05" y1="283.90" x2="434.65" y2="283.90" stroke="#111" stroke-width="1.0"/>
<line x1="432.85" y1="329.10" x2="432.85" y2="337.10" stroke="#111" stroke-width="1.1"/>
<line x1="431.05" y1="329.10" x2="434.65" y2="329.10" stroke="#111" stroke-width="1.0"/>
<line x1="431.05" y1="337.10" x2="434.65" y2="337.10" stroke="#111" stroke-width="1.0"/>
<text x="432.85" y="316.40" font-size="6.9" text-anchor="middle" textLength="6.30" lengthAdjust="spacingAndGlyphs" fill="#eef4e8">ns</text>
<polygon points="431.45,359.70 431.83,360.47 432.69,360.60 432.07,361.20 432.21,362.05 431.45,361.65 430.69,362.05 430.83,361.20 430.21,360.60 431.07,360.47" fill="#e8e0f0"/>
<polygon points="434.25,359.70 434.63,360.47 435.49,360.60 434.87,361.20 435.01,362.05 434.25,361.65 433.49,362.05 433.63,361.20 433.01,360.60 433.87,360.47" fill="#e8e0f0"/>
<text x="460.70" y="381.50" font-size="10.8" text-anchor="middle" textLength="10.80" lengthAdjust="spacingAndGlyphs" fill="#1a1a1a" stroke="#1a1a1a" stroke-width="0.2">P4</text>
<rect x="456.35" y="279.90" width="8.70" height="86.40" fill="#69a63d"/>
<rect x="456.35" y="336.10" width="8.70" height="30.20" fill="#55297a"/>
<line x1="460.70" y1="278.40" x2="460.70" y2="281.40" stroke="#111" stroke-width="1.1"/>
<line x1="458.90" y1="278.40" x2="462.50" y2="278.40" stroke="#111" stroke-width="1.0"/>
<line x1="458.90" y1="281.40" x2="462.50" y2="281.40" stroke="#111" stroke-width="1.0"/>
<line x1="460.70" y1="334.60" x2="460.70" y2="337.60" stroke="#111" stroke-width="1.1"/>
<line x1="458.90" y1="334.60" x2="462.50" y2="334.60" stroke="#111" stroke-width="1.0"/>
<line x1="458.90" y1="337.60" x2="462.50" y2="337.60" stroke="#111" stroke-width="1.0"/>
<text x="460.70" y="316.40" font-size="6.9" text-anchor="middle" textLength="6.30" lengthAdjust="spacingAndGlyphs" fill="#eef4e8">ns</text>
<polygon points="459.30,359.70 459.68,360.47 460.54,360.60 459.92,361.20 460.06,362.05 459.30,361.65 458.54,362.05 458.68,361.20 458.06,360.60 458.92,360.47" fill="#e8e0f0"/>
<polygon points="462.10,359.70 462.48,360.47 463.34,360.60 462.72,361.20 462.86,362.05 462.10,361.65 461.34,362.05 461.48,361.20 460.86,360.60 461.72,360.47" fill="#e8e0f0"/>
<text x="488.55" y="381.50" font-size="10.8" text-anchor="middle" textLength="10.80" lengthAdjust="spacingAndGlyphs" fill="#1a1a1a" stroke="#1a1a1a" stroke-width="0.2">P5</text>
<rect x="484.20" y="279.90" width="8.70" height="86.40" fill="#69a63d"/>
<rect x="484.20" y="340.00" width="8.70" height="26.30" fill="#55297a"/>
<ellipse cx="488.55" cy="279.60" rx="1.80" ry="1.15" fill="#111"/>
<ellipse cx="488.55" cy="339.70" rx="1.80" ry="1.15" fill="#111"/>
<text x="488.55" y="316.40" font-size="6.9" text-anchor="middle" textLength="6.30" lengthAdjust="spacingAndGlyphs" fill="#eef4e8">ns</text>
<polygon points="488.55,359.70 488.93,360.47 489.79,360.60 489.17,361.20 489.31,362.05 488.55,361.65 487.79,362.05 487.93,361.20 487.31,360.60 488.17,360.47" fill="#e8e0f0"/>
<rect x="368.10" y="261.20" width="4.40" height="4.40" fill="#69a63d"/>
<text x="376.40" y="266.10" font-size="10.0" textLength="29.80" lengthAdjust="spacingAndGlyphs" fill="#1a1a1a" stroke="#1a1a1a" stroke-width="0.2">Cytosol</text>
<rect x="417.30" y="260.90" width="4.80" height="4.70" fill="#55297a"/>
<text x="425.90" y="266.10" font-size="10.0" textLength="53.00" lengthAdjust="spacingAndGlyphs" fill="#1a1a1a" stroke="#1a1a1a" stroke-width="0.2">Mitochondria</text>
<text transform="translate(305.40,312.00) rotate(-90)" x="0" y="0" font-size="12.0" text-anchor="middle" textLength="57.50" lengthAdjust="spacingAndGlyphs" fill="#1a1a1a" stroke="#1a1a1a" stroke-width="0.2">Percent of iron</text>
<line x1="68.20" y1="540.30" x2="71.60" y2="540.30" stroke="#000" stroke-width="1.2"/>
<text x="65.30" y="544.00" font-size="10.6" text-anchor="end" textLength="5.30" lengthAdjust="spacingAndGlyphs" fill="#1a1a1a" stroke="#1a1a1a" stroke-width="0.2">0</text>
<line x1="68.20" y1="524.66" x2="71.60" y2="524.66" stroke="#000" stroke-width="1.2"/>
<text x="65.30" y="528.36" font-size="10.6" text-anchor="end" textLength="10.60" lengthAdjust="spacingAndGlyphs" fill="#1a1a1a" stroke="#1a1a1a" stroke-width="0.2">50</text>
<line x1="68.20" y1="509.02" x2="71.60" y2="509.02" stroke="#000" stroke-width="1.2"/>
<text x="65.30" y="512.72" font-size="10.6" text-anchor="end" textLength="15.90" lengthAdjust="spacingAndGlyphs" fill="#1a1a1a" stroke="#1a1a1a" stroke-width="0.2">100</text>
<line x1="68.20" y1="493.38" x2="71.60" y2="493.38" stroke="#000" stroke-width="1.2"/>
<text x="65.30" y="497.08" font-size="10.6" text-anchor="end" textLength="15.90" lengthAdjust="spacingAndGlyphs" fill="#1a1a1a" stroke="#1a1a1a" stroke-width="0.2">150</text>
<line x1="68.20" y1="477.74" x2="71.60" y2="477.74" stroke="#000" stroke-width="1.2"/>
<text x="65.30" y="481.44" font-size="10.6" text-anchor="end" textLength="15.90" lengthAdjust="spacingAndGlyphs" fill="#1a1a1a" stroke="#1a1a1a" stroke-width="0.2">200</text>
<line x1="68.20" y1="462.10" x2="71.60" y2="462.10" stroke="#000" stroke-width="1.2"/>
<text x="65.30" y="465.80" font-size="10.6" text-anchor="end" textLength="15.90" lengthAdjust="spacingAndGlyphs" fill="#1a1a1a" stroke="#1a1a1a" stroke-width="0.2">250</text>
<line x1="68.20" y1="446.46" x2="71.60" y2="446.46" stroke="#000" stroke-width="1.2"/>
<text x="65.30" y="450.16" font-size="10.6" text-anchor="end" textLength="15.90" lengthAdjust="spacingAndGlyphs" fill="#1a1a1a" stroke="#1a1a1a" stroke-width="0.2">300</text>
<line x1="68.20" y1="430.82" x2="71.60" y2="430.82" stroke="#000" stroke-width="1.2"/>
<text x="65.30" y="434.52" font-size="10.6" text-anchor="end" textLength="15.90" lengthAdjust="spacingAndGlyphs" fill="#1a1a1a" stroke="#1a1a1a" stroke-width="0.2">350</text>
<line x1="72.40" y1="540.30" x2="72.40" y2="543.60" stroke="#000" stroke-width="1.2"/>
<line x1="103.60" y1="540.30" x2="103.60" y2="543.60" stroke="#000" stroke-width="1.2"/>
<line x1="134.80" y1="540.30" x2="134.80" y2="543.60" stroke="#000" stroke-width="1.2"/>
<line x1="166.00" y1="540.30" x2="166.00" y2="543.60" stroke="#000" stroke-width="1.2"/>
<line x1="197.20" y1="540.30" x2="197.20" y2="543.60" stroke="#000" stroke-width="1.2"/>
<line x1="228.40" y1="540.30" x2="228.40" y2="543.60" stroke="#000" stroke-width="1.2"/>
<line x1="259.60" y1="540.30" x2="259.60" y2="543.60" stroke="#000" stroke-width="1.2"/>
<text x="88.10" y="556.00" font-size="10.8" text-anchor="middle" textLength="10.80" lengthAdjust="spacingAndGlyphs" fill="#1a1a1a" stroke="#1a1a1a" stroke-width="0.2">C*</text>
<rect x="83.20" y="511.70" width="9.80" height="28.60" fill="#ae0e30"/>
<line x1="88.10" y1="509.90" x2="88.10" y2="513.50" stroke="#111" stroke-width="1.1"/>
<line x1="86.30" y1="509.90" x2="89.90" y2="509.90" stroke="#111" stroke-width="1.0"/>
<line x1="86.30" y1="513.50" x2="89.90" y2="513.50" stroke="#111" stroke-width="1.0"/>
<text x="119.30" y="556.00" font-size="10.8" text-anchor="middle" textLength="10.80" lengthAdjust="spacingAndGlyphs" fill="#1a1a1a" stroke="#1a1a1a" stroke-width="0.2">P1</text>
<rect x="114.40" y="453.10" width="9.80" height="87.20" fill="#2d4f8b"/>
<line x1="119.30" y1="446.30" x2="119.30" y2="459.90" stroke="#111" stroke-width="1.1"/>
<line x1="117.50" y1="446.30" x2="121.10" y2="446.30" stroke="#111" stroke-width="1.0"/>
<line x1="117.50" y1="459.90" x2="121.10" y2="459.90" stroke="#111" stroke-width="1.0"/>
<polygon points="117.50,440.30 117.97,441.25 119.02,441.41 118.26,442.15 118.44,443.19 117.50,442.70 116.56,443.19 116.74,442.15 115.98,441.41 117.03,441.25" fill="#111"/>
<polygon points="121.10,440.30 121.57,441.25 122.62,441.41 121.86,442.15 122.04,443.19 121.10,442.70 120.16,443.19 120.34,442.15 119.58,441.41 120.63,441.25" fill="#111"/>
<text x="150.50" y="556.00" font-size="10.8" text-anchor="middle" textLength="10.80" lengthAdjust="spacingAndGlyphs" fill="#1a1a1a" stroke="#1a1a1a" stroke-width="0.2">P2</text>
<rect x="145.60" y="460.40" width="9.80" height="79.90" fill="#2d4f8b"/>
<line x1="150.50" y1="457.50" x2="150.50" y2="463.30" stroke="#111" stroke-width="1.1"/>
<line x1="148.70" y1="457.50" x2="152.30" y2="457.50" stroke="#111" stroke-width="1.0"/>
<line x1="148.70" y1="463.30" x2="152.30" y2="463.30" stroke="#111" stroke-width="1.0"/>
<polygon points="146.90,452.40 147.37,453.35 148.42,453.51 147.66,454.25 147.84,455.29 146.90,454.80 145.96,455.29 146.14,454.25 145.38,453.51 146.43,453.35" fill="#111"/>
<polygon points="150.50,452.40 150.97,453.35 152.02,453.51 151.26,454.25 151.44,455.29 150.50,454.80 149.56,455.29 149.74,454.25 148.98,453.51 150.03,453.35" fill="#111"/>
<polygon points="154.10,452.40 154.57,453.35 155.62,453.51 154.86,454.25 155.04,455.29 154.10,454.80 153.16,455.29 153.34,454.25 152.58,453.51 153.63,453.35" fill="#111"/>
<text x="181.70" y="556.00" font-size="10.8" text-anchor="middle" textLength="10.80" lengthAdjust="spacingAndGlyphs" fill="#1a1a1a" stroke="#1a1a1a" stroke-width="0.2">P3</text>
<rect x="176.80" y="457.90" width="9.80" height="82.40" fill="#2d4f8b"/>
<line x1="181.70" y1="454.00" x2="181.70" y2="461.80" stroke="#111" stroke-width="1.1"/>
<line x1="179.90" y1="454.00" x2="183.50" y2="454.00" stroke="#111" stroke-width="1.0"/>
<line x1="179.90" y1="461.80" x2="183.50" y2="461.80" stroke="#111" stroke-width="1.0"/>
<polygon points="178.10,448.20 178.57,449.15 179.62,449.31 178.86,450.05 179.04,451.09 178.10,450.60 177.16,451.09 177.34,450.05 176.58,449.31 177.63,449.15" fill="#111"/>
<polygon points="181.70,448.20 182.17,449.15 183.22,449.31 182.46,450.05 182.64,451.09 181.70,450.60 180.76,451.09 180.94,450.05 180.18,449.31 181.23,449.15" fill="#111"/>
<polygon points="185.30,448.20 185.77,449.15 186.82,449.31 186.06,450.05 186.24,451.09 185.30,450.60 184.36,451.09 184.54,450.05 183.78,449.31 184.83,449.15" fill="#111"/>
<text x="212.90" y="556.00" font-size="10.8" text-anchor="middle" textLength="10.80" lengthAdjust="spacingAndGlyphs" fill="#1a1a1a" stroke="#1a1a1a" stroke-width="0.2">P4</text>
<rect x="208.00" y="456.90" width="9.80" height="83.40" fill="#2d4f8b"/>
<line x1="212.90" y1="448.50" x2="212.90" y2="465.30" stroke="#111" stroke-width="1.1"/>
<line x1="211.10" y1="448.50" x2="214.70" y2="448.50" stroke="#111" stroke-width="1.0"/>
<line x1="211.10" y1="465.30" x2="214.70" y2="465.30" stroke="#111" stroke-width="1.0"/>
<polygon points="211.10,443.40 211.57,444.35 212.62,444.51 211.86,445.25 212.04,446.29 211.10,445.80 210.16,446.29 210.34,445.25 209.58,444.51 210.63,444.35" fill="#111"/>
<polygon points="214.70,443.40 215.17,444.35 216.22,444.51 215.46,445.25 215.64,446.29 214.70,445.80 213.76,446.29 213.94,445.25 213.18,444.51 214.23,444.35" fill="#111"/>
<text x="244.10" y="556.00" font-size="10.8" text-anchor="middle" textLength="10.80" lengthAdjust="spacingAndGlyphs" fill="#1a1a1a" stroke="#1a1a1a" stroke-width="0.2">P5</text>
<rect x="239.20" y="461.20" width="9.80" height="79.10" fill="#2d4f8b"/>
<line x1="244.10" y1="458.20" x2="244.10" y2="464.20" stroke="#111" stroke-width="1.1"/>
<line x1="242.30" y1="458.20" x2="245.90" y2="458.20" stroke="#111" stroke-width="1.0"/>
<line x1="242.30" y1="464.20" x2="245.90" y2="464.20" stroke="#111" stroke-width="1.0"/>
<polygon points="240.50,452.80 240.97,453.75 242.02,453.91 241.26,454.65 241.44,455.69 240.50,455.20 239.56,455.69 239.74,454.65 238.98,453.91 240.03,453.75" fill="#111"/>
<polygon points="244.10,452.80 244.57,453.75 245.62,453.91 244.86,454.65 245.04,455.69 244.10,455.20 243.16,455.69 243.34,454.65 242.58,453.91 243.63,453.75" fill="#111"/>
<polygon points="247.70,452.80 248.17,453.75 249.22,453.91 248.46,454.65 248.64,455.69 247.70,455.20 246.76,455.69 246.94,454.65 246.18,453.91 247.23,453.75" fill="#111"/>
<text transform="translate(28.90,483.40) rotate(-90)" x="0" y="0" font-size="12.0" text-anchor="middle" textLength="87.00" lengthAdjust="spacingAndGlyphs" fill="#1a1a1a" stroke="#1a1a1a" stroke-width="0.2">MitoSOX fluorescence</text>
<text transform="translate(42.80,483.10) rotate(-90)" x="0" y="0" font-size="12.0" text-anchor="middle" textLength="53.00" lengthAdjust="spacingAndGlyphs" fill="#1a1a1a" stroke="#1a1a1a" stroke-width="0.2">(% of control)</text>
<line x1="332.00" y1="541.00" x2="335.40" y2="541.00" stroke="#000" stroke-width="1.2"/>
<text x="327.50" y="544.60" font-size="10.6" text-anchor="end" textLength="13.60" lengthAdjust="spacingAndGlyphs" fill="#1a1a1a" stroke="#1a1a1a" stroke-width="0.2">0.0</text>
<line x1="332.00" y1="516.84" x2="335.40" y2="516.84" stroke="#000" stroke-width="1.2"/>
<text x="327.50" y="520.44" font-size="10.6" text-anchor="end" textLength="13.60" lengthAdjust="spacingAndGlyphs" fill="#1a1a1a" stroke="#1a1a1a" stroke-width="0.2">0.2</text>
<line x1="332.00" y1="492.68" x2="335.40" y2="492.68" stroke="#000" stroke-width="1.2"/>
<text x="327.50" y="496.28" font-size="10.6" text-anchor="end" textLength="13.60" lengthAdjust="spacingAndGlyphs" fill="#1a1a1a" stroke="#1a1a1a" stroke-width="0.2">0.4</text>
<line x1="332.00" y1="468.52" x2="335.40" y2="468.52" stroke="#000" stroke-width="1.2"/>
<text x="327.50" y="472.12" font-size="10.6" text-anchor="end" textLength="13.60" lengthAdjust="spacingAndGlyphs" fill="#1a1a1a" stroke="#1a1a1a" stroke-width="0.2">0.6</text>
<line x1="332.00" y1="444.36" x2="335.40" y2="444.36" stroke="#000" stroke-width="1.2"/>
<text x="327.50" y="447.96" font-size="10.6" text-anchor="end" textLength="13.60" lengthAdjust="spacingAndGlyphs" fill="#1a1a1a" stroke="#1a1a1a" stroke-width="0.2">0.8</text>
<line x1="332.00" y1="420.20" x2="335.40" y2="420.20" stroke="#000" stroke-width="1.2"/>
<text x="327.50" y="423.80" font-size="10.6" text-anchor="end" textLength="13.60" lengthAdjust="spacingAndGlyphs" fill="#1a1a1a" stroke="#1a1a1a" stroke-width="0.2">1.0</text>
<line x1="334.80" y1="541.00" x2="334.80" y2="544.30" stroke="#000" stroke-width="1.2"/>
<line x1="356.47" y1="541.00" x2="356.47" y2="544.30" stroke="#000" stroke-width="1.2"/>
<line x1="378.14" y1="541.00" x2="378.14" y2="544.30" stroke="#000" stroke-width="1.2"/>
<line x1="399.81" y1="541.00" x2="399.81" y2="544.30" stroke="#000" stroke-width="1.2"/>
<line x1="421.48" y1="541.00" x2="421.48" y2="544.30" stroke="#000" stroke-width="1.2"/>
<line x1="443.15" y1="541.00" x2="443.15" y2="544.30" stroke="#000" stroke-width="1.2"/>
<line x1="464.82" y1="541.00" x2="464.82" y2="544.30" stroke="#000" stroke-width="1.2"/>
<line x1="486.49" y1="541.00" x2="486.49" y2="544.30" stroke="#000" stroke-width="1.2"/>
<line x1="508.16" y1="541.00" x2="508.16" y2="544.30" stroke="#000" stroke-width="1.2"/>
<text x="345.70" y="556.30" font-size="10.8" text-anchor="middle" textLength="10.80" lengthAdjust="spacingAndGlyphs" fill="#1a1a1a" stroke="#1a1a1a" stroke-width="0.2">C1</text>
<rect x="340.30" y="441.00" width="4.70" height="100.00" fill="#ae0e30"/>
<line x1="342.65" y1="439.60" x2="342.65" y2="442.40" stroke="#111" stroke-width="1.1"/>
<line x1="341.15" y1="439.60" x2="344.15" y2="439.60" stroke="#111" stroke-width="1.0"/>
<line x1="341.15" y1="442.40" x2="344.15" y2="442.40" stroke="#111" stroke-width="1.0"/>
<rect x="346.50" y="513.50" width="4.70" height="27.50" fill="#2d4f8b"/>
<line x1="348.85" y1="509.00" x2="348.85" y2="518.00" stroke="#111" stroke-width="1.1"/>
<line x1="347.35" y1="509.00" x2="350.35" y2="509.00" stroke="#111" stroke-width="1.0"/>
<line x1="347.35" y1="518.00" x2="350.35" y2="518.00" stroke="#111" stroke-width="1.0"/>
<line x1="341.80" y1="436.20" x2="350.80" y2="436.20" stroke="#222" stroke-width="1.3"/>
<polygon points="342.70,430.20 343.17,431.15 344.22,431.31 343.46,432.05 343.64,433.09 342.70,432.60 341.76,433.09 341.94,432.05 341.18,431.31 342.23,431.15" fill="#111"/>
<polygon points="346.30,430.20 346.77,431.15 347.82,431.31 347.06,432.05 347.24,433.09 346.30,432.60 345.36,433.09 345.54,432.05 344.78,431.31 345.83,431.15" fill="#111"/>
<polygon points="349.90,430.20 350.37,431.15 351.42,431.31 350.66,432.05 350.84,433.09 349.90,432.60 348.96,433.09 349.14,432.05 348.38,431.31 349.43,431.15" fill="#111"/>
<text x="367.37" y="556.30" font-size="10.8" text-anchor="middle" textLength="10.80" lengthAdjust="spacingAndGlyphs" fill="#1a1a1a" stroke="#1a1a1a" stroke-width="0.2">C2</text>
<rect x="361.97" y="442.30" width="4.70" height="98.70" fill="#ae0e30"/>
<line x1="364.32" y1="436.70" x2="364.32" y2="447.90" stroke="#111" stroke-width="1.1"/>
<line x1="362.82" y1="436.70" x2="365.82" y2="436.70" stroke="#111" stroke-width="1.0"/>
<line x1="362.82" y1="447.90" x2="365.82" y2="447.90" stroke="#111" stroke-width="1.0"/>
<rect x="368.17" y="515.40" width="4.70" height="25.60" fill="#2d4f8b"/>
<line x1="370.52" y1="513.00" x2="370.52" y2="517.80" stroke="#111" stroke-width="1.1"/>
<line x1="369.02" y1="513.00" x2="372.02" y2="513.00" stroke="#111" stroke-width="1.0"/>
<line x1="369.02" y1="517.80" x2="372.02" y2="517.80" stroke="#111" stroke-width="1.0"/>
<line x1="363.47" y1="433.70" x2="372.47" y2="433.70" stroke="#222" stroke-width="1.3"/>
<polygon points="364.37,427.70 364.84,428.65 365.89,428.81 365.13,429.55 365.31,430.59 364.37,430.10 363.43,430.59 363.61,429.55 362.85,428.81 363.90,428.65" fill="#111"/>
<polygon points="367.97,427.70 368.44,428.65 369.49,428.81 368.73,429.55 368.91,430.59 367.97,430.10 367.03,430.59 367.21,429.55 366.45,428.81 367.50,428.65" fill="#111"/>
<polygon points="371.57,427.70 372.04,428.65 373.09,428.81 372.33,429.55 372.51,430.59 371.57,430.10 370.63,430.59 370.81,429.55 370.05,428.81 371.10,428.65" fill="#111"/>
<text x="389.04" y="556.30" font-size="10.8" text-anchor="middle" textLength="10.80" lengthAdjust="spacingAndGlyphs" fill="#1a1a1a" stroke="#1a1a1a" stroke-width="0.2">C3</text>
<rect x="383.64" y="435.80" width="4.70" height="105.20" fill="#ae0e30"/>
<line x1="385.99" y1="433.30" x2="385.99" y2="438.30" stroke="#111" stroke-width="1.1"/>
<line x1="384.49" y1="433.30" x2="387.49" y2="433.30" stroke="#111" stroke-width="1.0"/>
<line x1="384.49" y1="438.30" x2="387.49" y2="438.30" stroke="#111" stroke-width="1.0"/>
<rect x="389.84" y="514.00" width="4.70" height="27.00" fill="#2d4f8b"/>
<line x1="392.19" y1="510.00" x2="392.19" y2="518.00" stroke="#111" stroke-width="1.1"/>
<line x1="390.69" y1="510.00" x2="393.69" y2="510.00" stroke="#111" stroke-width="1.0"/>
<line x1="390.69" y1="518.00" x2="393.69" y2="518.00" stroke="#111" stroke-width="1.0"/>
<line x1="385.14" y1="430.00" x2="394.14" y2="430.00" stroke="#222" stroke-width="1.3"/>
<polygon points="386.04,424.00 386.51,424.95 387.56,425.11 386.80,425.85 386.98,426.89 386.04,426.40 385.10,426.89 385.28,425.85 384.52,425.11 385.57,424.95" fill="#111"/>
<polygon points="389.64,424.00 390.11,424.95 391.16,425.11 390.40,425.85 390.58,426.89 389.64,426.40 388.70,426.89 388.88,425.85 388.12,425.11 389.17,424.95" fill="#111"/>
<polygon points="393.24,424.00 393.71,424.95 394.76,425.11 394.00,425.85 394.18,426.89 393.24,426.40 392.30,426.89 392.48,425.85 391.72,425.11 392.77,424.95" fill="#111"/>
<text x="410.71" y="556.30" font-size="10.8" text-anchor="middle" textLength="10.80" lengthAdjust="spacingAndGlyphs" fill="#1a1a1a" stroke="#1a1a1a" stroke-width="0.2">P1</text>
<rect x="405.31" y="433.30" width="4.70" height="107.70" fill="#ae0e30"/>
<line x1="407.66" y1="429.70" x2="407.66" y2="436.90" stroke="#111" stroke-width="1.1"/>
<line x1="406.16" y1="429.70" x2="409.16" y2="429.70" stroke="#111" stroke-width="1.0"/>
<line x1="406.16" y1="436.90" x2="409.16" y2="436.90" stroke="#111" stroke-width="1.0"/>
<rect x="411.51" y="512.10" width="4.70" height="28.90" fill="#2d4f8b"/>
<line x1="413.86" y1="508.50" x2="413.86" y2="515.70" stroke="#111" stroke-width="1.1"/>
<line x1="412.36" y1="508.50" x2="415.36" y2="508.50" stroke="#111" stroke-width="1.0"/>
<line x1="412.36" y1="515.70" x2="415.36" y2="515.70" stroke="#111" stroke-width="1.0"/>
<line x1="406.81" y1="426.90" x2="415.81" y2="426.90" stroke="#222" stroke-width="1.3"/>
<polygon points="407.71,420.90 408.18,421.85 409.23,422.01 408.47,422.75 408.65,423.79 407.71,423.30 406.77,423.79 406.95,422.75 406.19,422.01 407.24,421.85" fill="#111"/>
<polygon points="411.31,420.90 411.78,421.85 412.83,422.01 412.07,422.75 412.25,423.79 411.31,423.30 410.37,423.79 410.55,422.75 409.79,422.01 410.84,421.85" fill="#111"/>
<polygon points="414.91,420.90 415.38,421.85 416.43,422.01 415.67,422.75 415.85,423.79 414.91,423.30 413.97,423.79 414.15,422.75 413.39,422.01 414.44,421.85" fill="#111"/>
<text x="432.38" y="556.30" font-size="10.8" text-anchor="middle" textLength="10.80" lengthAdjust="spacingAndGlyphs" fill="#1a1a1a" stroke="#1a1a1a" stroke-width="0.2">P2</text>
<rect x="426.98" y="439.60" width="4.70" height="101.40" fill="#ae0e30"/>
<line x1="429.33" y1="437.20" x2="429.33" y2="442.00" stroke="#111" stroke-width="1.1"/>
<line x1="427.83" y1="437.20" x2="430.83" y2="437.20" stroke="#111" stroke-width="1.0"/>
<line x1="427.83" y1="442.00" x2="430.83" y2="442.00" stroke="#111" stroke-width="1.0"/>
<rect x="433.18" y="508.70" width="4.70" height="32.30" fill="#2d4f8b"/>
<line x1="435.53" y1="505.60" x2="435.53" y2="511.80" stroke="#111" stroke-width="1.1"/>
<line x1="434.03" y1="505.60" x2="437.03" y2="505.60" stroke="#111" stroke-width="1.0"/>
<line x1="434.03" y1="511.80" x2="437.03" y2="511.80" stroke="#111" stroke-width="1.0"/>
<line x1="428.48" y1="434.20" x2="437.48" y2="434.20" stroke="#222" stroke-width="1.3"/>
<polygon points="429.38,428.20 429.85,429.15 430.90,429.31 430.14,430.05 430.32,431.09 429.38,430.60 428.44,431.09 428.62,430.05 427.86,429.31 428.91,429.15" fill="#111"/>
<polygon points="432.98,428.20 433.45,429.15 434.50,429.31 433.74,430.05 433.92,431.09 432.98,430.60 432.04,431.09 432.22,430.05 431.46,429.31 432.51,429.15" fill="#111"/>
<polygon points="436.58,428.20 437.05,429.15 438.10,429.31 437.34,430.05 437.52,431.09 436.58,430.60 435.64,431.09 435.82,430.05 435.06,429.31 436.11,429.15" fill="#111"/>
<text x="454.05" y="556.30" font-size="10.8" text-anchor="middle" textLength="10.80" lengthAdjust="spacingAndGlyphs" fill="#1a1a1a" stroke="#1a1a1a" stroke-width="0.2">P3</text>
<rect x="448.65" y="445.40" width="4.70" height="95.60" fill="#ae0e30"/>
<line x1="451.00" y1="438.70" x2="451.00" y2="452.10" stroke="#111" stroke-width="1.1"/>
<line x1="449.50" y1="438.70" x2="452.50" y2="438.70" stroke="#111" stroke-width="1.0"/>
<line x1="449.50" y1="452.10" x2="452.50" y2="452.10" stroke="#111" stroke-width="1.0"/>
<rect x="454.85" y="509.20" width="4.70" height="31.80" fill="#2d4f8b"/>
<line x1="457.20" y1="505.20" x2="457.20" y2="513.20" stroke="#111" stroke-width="1.1"/>
<line x1="455.70" y1="505.20" x2="458.70" y2="505.20" stroke="#111" stroke-width="1.0"/>
<line x1="455.70" y1="513.20" x2="458.70" y2="513.20" stroke="#111" stroke-width="1.0"/>
<line x1="450.15" y1="434.80" x2="459.15" y2="434.80" stroke="#222" stroke-width="1.3"/>
<polygon points="451.05,428.80 451.52,429.75 452.57,429.91 451.81,430.65 451.99,431.69 451.05,431.20 450.11,431.69 450.29,430.65 449.53,429.91 450.58,429.75" fill="#111"/>
<polygon points="454.65,428.80 455.12,429.75 456.17,429.91 455.41,430.65 455.59,431.69 454.65,431.20 453.71,431.69 453.89,430.65 453.13,429.91 454.18,429.75" fill="#111"/>
<polygon points="458.25,428.80 458.72,429.75 459.77,429.91 459.01,430.65 459.19,431.69 458.25,431.20 457.31,431.69 457.49,430.65 456.73,429.91 457.78,429.75" fill="#111"/>
<text x="475.72" y="556.30" font-size="10.8" text-anchor="middle" textLength="10.80" lengthAdjust="spacingAndGlyphs" fill="#1a1a1a" stroke="#1a1a1a" stroke-width="0.2">P4</text>
<rect x="470.32" y="439.00" width="4.70" height="102.00" fill="#ae0e30"/>
<line x1="472.67" y1="434.40" x2="472.67" y2="443.60" stroke="#111" stroke-width="1.1"/>
<line x1="471.17" y1="434.40" x2="474.17" y2="434.40" stroke="#111" stroke-width="1.0"/>
<line x1="471.17" y1="443.60" x2="474.17" y2="443.60" stroke="#111" stroke-width="1.0"/>
<rect x="476.52" y="513.00" width="4.70" height="28.00" fill="#2d4f8b"/>
<line x1="478.87" y1="509.90" x2="478.87" y2="516.10" stroke="#111" stroke-width="1.1"/>
<line x1="477.37" y1="509.90" x2="480.37" y2="509.90" stroke="#111" stroke-width="1.0"/>
<line x1="477.37" y1="516.10" x2="480.37" y2="516.10" stroke="#111" stroke-width="1.0"/>
<line x1="471.82" y1="431.30" x2="480.82" y2="431.30" stroke="#222" stroke-width="1.3"/>
<polygon points="472.72,425.30 473.19,426.25 474.24,426.41 473.48,427.15 473.66,428.19 472.72,427.70 471.78,428.19 471.96,427.15 471.20,426.41 472.25,426.25" fill="#111"/>
<polygon points="476.32,425.30 476.79,426.25 477.84,426.41 477.08,427.15 477.26,428.19 476.32,427.70 475.38,428.19 475.56,427.15 474.80,426.41 475.85,426.25" fill="#111"/>
<polygon points="479.92,425.30 480.39,426.25 481.44,426.41 480.68,427.15 480.86,428.19 479.92,427.70 478.98,428.19 479.16,427.15 478.40,426.41 479.45,426.25" fill="#111"/>
<text x="497.39" y="556.30" font-size="10.8" text-anchor="middle" textLength="10.80" lengthAdjust="spacingAndGlyphs" fill="#1a1a1a" stroke="#1a1a1a" stroke-width="0.2">P5</text>
<rect x="491.99" y="443.80" width="4.70" height="97.20" fill="#ae0e30"/>
<line x1="494.34" y1="439.00" x2="494.34" y2="448.60" stroke="#111" stroke-width="1.1"/>
<line x1="492.84" y1="439.00" x2="495.84" y2="439.00" stroke="#111" stroke-width="1.0"/>
<line x1="492.84" y1="448.60" x2="495.84" y2="448.60" stroke="#111" stroke-width="1.0"/>
<rect x="498.19" y="516.90" width="4.70" height="24.10" fill="#2d4f8b"/>
<line x1="500.54" y1="512.70" x2="500.54" y2="521.10" stroke="#111" stroke-width="1.1"/>
<line x1="499.04" y1="512.70" x2="502.04" y2="512.70" stroke="#111" stroke-width="1.0"/>
<line x1="499.04" y1="521.10" x2="502.04" y2="521.10" stroke="#111" stroke-width="1.0"/>
<line x1="493.49" y1="435.20" x2="502.49" y2="435.20" stroke="#222" stroke-width="1.3"/>
<polygon points="494.39,429.20 494.86,430.15 495.91,430.31 495.15,431.05 495.33,432.09 494.39,431.60 493.45,432.09 493.63,431.05 492.87,430.31 493.92,430.15" fill="#111"/>
<polygon points="497.99,429.20 498.46,430.15 499.51,430.31 498.75,431.05 498.93,432.09 497.99,431.60 497.05,432.09 497.23,431.05 496.47,430.31 497.52,430.15" fill="#111"/>
<polygon points="501.59,429.20 502.06,430.15 503.11,430.31 502.35,431.05 502.53,432.09 501.59,431.60 500.65,432.09 500.83,431.05 500.07,430.31 501.12,430.15" fill="#111"/>
<rect x="387.30" y="409.50" width="5.20" height="4.40" fill="#ae0e30"/>
<text x="396.30" y="414.50" font-size="10.8" textLength="20.10" lengthAdjust="spacingAndGlyphs" fill="#1a1a1a" stroke="#1a1a1a" stroke-width="0.2">-FAC</text>
<rect x="427.40" y="409.50" width="4.90" height="4.40" fill="#2d4f8b"/>
<text x="436.60" y="414.50" font-size="10.8" textLength="21.60" lengthAdjust="spacingAndGlyphs" fill="#1a1a1a" stroke="#1a1a1a" stroke-width="0.2">+FAC</text>
<text transform="translate(307.40,478.00) rotate(-90)" x="0" y="0" font-size="12.0" text-anchor="middle" textLength="70.00" lengthAdjust="spacingAndGlyphs" fill="#1a1a1a" stroke="#1a1a1a" stroke-width="0.2">TFRC/GusB mRNA</text>
<line x1="68.90" y1="721.40" x2="72.30" y2="721.40" stroke="#000" stroke-width="1.2"/>
<text x="65.40" y="725.10" font-size="10.6" text-anchor="end" textLength="5.30" lengthAdjust="spacingAndGlyphs" fill="#1a1a1a" stroke="#1a1a1a" stroke-width="0.2">0</text>
<line x1="68.90" y1="699.35" x2="72.30" y2="699.35" stroke="#000" stroke-width="1.2"/>
<text x="65.40" y="703.05" font-size="10.6" text-anchor="end" textLength="15.90" lengthAdjust="spacingAndGlyphs" fill="#1a1a1a" stroke="#1a1a1a" stroke-width="0.2">100</text>
<line x1="68.90" y1="677.30" x2="72.30" y2="677.30" stroke="#000" stroke-width="1.2"/>
<text x="65.40" y="681.00" font-size="10.6" text-anchor="end" textLength="15.90" lengthAdjust="spacingAndGlyphs" fill="#1a1a1a" stroke="#1a1a1a" stroke-width="0.2">200</text>
<line x1="68.90" y1="655.25" x2="72.30" y2="655.25" stroke="#000" stroke-width="1.2"/>
<text x="65.40" y="658.95" font-size="10.6" text-anchor="end" textLength="15.90" lengthAdjust="spacingAndGlyphs" fill="#1a1a1a" stroke="#1a1a1a" stroke-width="0.2">300</text>
<line x1="68.90" y1="633.20" x2="72.30" y2="633.20" stroke="#000" stroke-width="1.2"/>
<text x="65.40" y="636.90" font-size="10.6" text-anchor="end" textLength="15.90" lengthAdjust="spacingAndGlyphs" fill="#1a1a1a" stroke="#1a1a1a" stroke-width="0.2">400</text>
<line x1="68.90" y1="611.15" x2="72.30" y2="611.15" stroke="#000" stroke-width="1.2"/>
<text x="65.40" y="614.85" font-size="10.6" text-anchor="end" textLength="15.90" lengthAdjust="spacingAndGlyphs" fill="#1a1a1a" stroke="#1a1a1a" stroke-width="0.2">500</text>
<line x1="72.30" y1="721.40" x2="72.30" y2="724.70" stroke="#000" stroke-width="1.2"/>
<line x1="95.83" y1="721.40" x2="95.83" y2="724.70" stroke="#000" stroke-width="1.2"/>
<line x1="119.36" y1="721.40" x2="119.36" y2="724.70" stroke="#000" stroke-width="1.2"/>
<line x1="142.89" y1="721.40" x2="142.89" y2="724.70" stroke="#000" stroke-width="1.2"/>
<line x1="166.42" y1="721.40" x2="166.42" y2="724.70" stroke="#000" stroke-width="1.2"/>
<line x1="189.95" y1="721.40" x2="189.95" y2="724.70" stroke="#000" stroke-width="1.2"/>
<line x1="213.48" y1="721.40" x2="213.48" y2="724.70" stroke="#000" stroke-width="1.2"/>
<line x1="237.01" y1="721.40" x2="237.01" y2="724.70" stroke="#000" stroke-width="1.2"/>
<line x1="260.54" y1="721.40" x2="260.54" y2="724.70" stroke="#000" stroke-width="1.2"/>
<text x="84.10" y="736.60" font-size="10.8" text-anchor="middle" textLength="10.80" lengthAdjust="spacingAndGlyphs" fill="#1a1a1a" stroke="#1a1a1a" stroke-width="0.2">C1</text>
<rect x="78.10" y="688.10" width="5.30" height="33.30" fill="#ae0e30"/>
<line x1="80.75" y1="680.10" x2="80.75" y2="696.10" stroke="#111" stroke-width="1.1"/>
<line x1="79.05" y1="680.10" x2="82.45" y2="680.10" stroke="#111" stroke-width="1.0"/>
<line x1="79.05" y1="696.10" x2="82.45" y2="696.10" stroke="#111" stroke-width="1.0"/>
<rect x="84.90" y="650.60" width="5.30" height="70.80" fill="#2d4f8b"/>
<line x1="87.55" y1="643.20" x2="87.55" y2="658.00" stroke="#111" stroke-width="1.1"/>
<line x1="85.85" y1="643.20" x2="89.25" y2="643.20" stroke="#111" stroke-width="1.0"/>
<line x1="85.85" y1="658.00" x2="89.25" y2="658.00" stroke="#111" stroke-width="1.0"/>
<line x1="79.60" y1="639.00" x2="88.80" y2="639.00" stroke="#222" stroke-width="1.3"/>
<polygon points="80.20,632.90 80.73,633.97 81.91,634.14 81.06,634.98 81.26,636.16 80.20,635.60 79.14,636.16 79.34,634.98 78.49,634.14 79.67,633.97" fill="#111"/>
<polygon points="84.20,632.90 84.73,633.97 85.91,634.14 85.06,634.98 85.26,636.16 84.20,635.60 83.14,636.16 83.34,634.98 82.49,634.14 83.67,633.97" fill="#111"/>
<polygon points="88.20,632.90 88.73,633.97 89.91,634.14 89.06,634.98 89.26,636.16 88.20,635.60 87.14,636.16 87.34,634.98 86.49,634.14 87.67,633.97" fill="#111"/>
<text x="107.63" y="736.60" font-size="10.8" text-anchor="middle" textLength="10.80" lengthAdjust="spacingAndGlyphs" fill="#1a1a1a" stroke="#1a1a1a" stroke-width="0.2">C2</text>
<rect x="101.63" y="691.30" width="5.30" height="30.10" fill="#ae0e30"/>
<ellipse cx="104.28" cy="691.00" rx="1.70" ry="1.15" fill="#111"/>
<rect x="108.43" y="639.00" width="5.30" height="82.40" fill="#2d4f8b"/>
<line x1="111.08" y1="634.20" x2="111.08" y2="643.80" stroke="#111" stroke-width="1.1"/>
<line x1="109.38" y1="634.20" x2="112.78" y2="634.20" stroke="#111" stroke-width="1.0"/>
<line x1="109.38" y1="643.80" x2="112.78" y2="643.80" stroke="#111" stroke-width="1.0"/>
<line x1="103.13" y1="631.00" x2="112.33" y2="631.00" stroke="#222" stroke-width="1.3"/>
<polygon points="103.73,624.90 104.26,625.97 105.44,626.14 104.59,626.98 104.79,628.16 103.73,627.60 102.67,628.16 102.87,626.98 102.02,626.14 103.20,625.97" fill="#111"/>
<polygon points="107.73,624.90 108.26,625.97 109.44,626.14 108.59,626.98 108.79,628.16 107.73,627.60 106.67,628.16 106.87,626.98 106.02,626.14 107.20,625.97" fill="#111"/>
<polygon points="111.73,624.90 112.26,625.97 113.44,626.14 112.59,626.98 112.79,628.16 111.73,627.60 110.67,628.16 110.87,626.98 110.02,626.14 111.20,625.97" fill="#111"/>
<text x="131.16" y="736.60" font-size="10.8" text-anchor="middle" textLength="10.80" lengthAdjust="spacingAndGlyphs" fill="#1a1a1a" stroke="#1a1a1a" stroke-width="0.2">C3</text>
<rect x="125.16" y="692.90" width="5.30" height="28.50" fill="#ae0e30"/>
<line x1="127.81" y1="690.40" x2="127.81" y2="695.40" stroke="#111" stroke-width="1.1"/>
<line x1="126.11" y1="690.40" x2="129.51" y2="690.40" stroke="#111" stroke-width="1.0"/>
<line x1="126.11" y1="695.40" x2="129.51" y2="695.40" stroke="#111" stroke-width="1.0"/>
<rect x="131.96" y="649.60" width="5.30" height="71.80" fill="#2d4f8b"/>
<line x1="134.61" y1="643.20" x2="134.61" y2="656.00" stroke="#111" stroke-width="1.1"/>
<line x1="132.91" y1="643.20" x2="136.31" y2="643.20" stroke="#111" stroke-width="1.0"/>
<line x1="132.91" y1="656.00" x2="136.31" y2="656.00" stroke="#111" stroke-width="1.0"/>
<line x1="126.66" y1="640.00" x2="135.86" y2="640.00" stroke="#222" stroke-width="1.3"/>
<polygon points="127.26,633.90 127.79,634.97 128.97,635.14 128.12,635.98 128.32,637.16 127.26,636.60 126.20,637.16 126.40,635.98 125.55,635.14 126.73,634.97" fill="#111"/>
<polygon points="131.26,633.90 131.79,634.97 132.97,635.14 132.12,635.98 132.32,637.16 131.26,636.60 130.20,637.16 130.40,635.98 129.55,635.14 130.73,634.97" fill="#111"/>
<polygon points="135.26,633.90 135.79,634.97 136.97,635.14 136.12,635.98 136.32,637.16 135.26,636.60 134.20,637.16 134.40,635.98 133.55,635.14 134.73,634.97" fill="#111"/>
<text x="154.69" y="736.60" font-size="10.8" text-anchor="middle" textLength="10.80" lengthAdjust="spacingAndGlyphs" fill="#1a1a1a" stroke="#1a1a1a" stroke-width="0.2">P1</text>
<rect x="148.69" y="687.10" width="5.30" height="34.30" fill="#ae0e30"/>
<line x1="151.34" y1="680.80" x2="151.34" y2="693.40" stroke="#111" stroke-width="1.1"/>
<line x1="149.64" y1="680.80" x2="153.04" y2="680.80" stroke="#111" stroke-width="1.0"/>
<line x1="149.64" y1="693.40" x2="153.04" y2="693.40" stroke="#111" stroke-width="1.0"/>
<rect x="155.49" y="655.80" width="5.30" height="65.60" fill="#2d4f8b"/>
<line x1="158.14" y1="651.30" x2="158.14" y2="660.30" stroke="#111" stroke-width="1.1"/>
<line x1="156.44" y1="651.30" x2="159.84" y2="651.30" stroke="#111" stroke-width="1.0"/>
<line x1="156.44" y1="660.30" x2="159.84" y2="660.30" stroke="#111" stroke-width="1.0"/>
<line x1="150.19" y1="647.10" x2="159.39" y2="647.10" stroke="#222" stroke-width="1.3"/>
<polygon points="152.79,641.00 153.32,642.07 154.50,642.24 153.65,643.08 153.85,644.26 152.79,643.70 151.73,644.26 151.93,643.08 151.08,642.24 152.26,642.07" fill="#111"/>
<polygon points="156.79,641.00 157.32,642.07 158.50,642.24 157.65,643.08 157.85,644.26 156.79,643.70 155.73,644.26 155.93,643.08 155.08,642.24 156.26,642.07" fill="#111"/>
<text x="178.22" y="736.60" font-size="10.8" text-anchor="middle" textLength="10.80" lengthAdjust="spacingAndGlyphs" fill="#1a1a1a" stroke="#1a1a1a" stroke-width="0.2">P2</text>
<rect x="172.22" y="688.10" width="5.30" height="33.30" fill="#ae0e30"/>
<line x1="174.87" y1="683.10" x2="174.87" y2="693.10" stroke="#111" stroke-width="1.1"/>
<line x1="173.17" y1="683.10" x2="176.57" y2="683.10" stroke="#111" stroke-width="1.0"/>
<line x1="173.17" y1="693.10" x2="176.57" y2="693.10" stroke="#111" stroke-width="1.0"/>
<rect x="179.02" y="645.40" width="5.30" height="76.00" fill="#2d4f8b"/>
<line x1="181.67" y1="641.00" x2="181.67" y2="649.80" stroke="#111" stroke-width="1.1"/>
<line x1="179.97" y1="641.00" x2="183.37" y2="641.00" stroke="#111" stroke-width="1.0"/>
<line x1="179.97" y1="649.80" x2="183.37" y2="649.80" stroke="#111" stroke-width="1.0"/>
<line x1="173.72" y1="636.70" x2="182.92" y2="636.70" stroke="#222" stroke-width="1.3"/>
<polygon points="174.32,630.60 174.85,631.67 176.03,631.84 175.18,632.68 175.38,633.86 174.32,633.30 173.26,633.86 173.46,632.68 172.61,631.84 173.79,631.67" fill="#111"/>
<polygon points="178.32,630.60 178.85,631.67 180.03,631.84 179.18,632.68 179.38,633.86 178.32,633.30 177.26,633.86 177.46,632.68 176.61,631.84 177.79,631.67" fill="#111"/>
<polygon points="182.32,630.60 182.85,631.67 184.03,631.84 183.18,632.68 183.38,633.86 182.32,633.30 181.26,633.86 181.46,632.68 180.61,631.84 181.79,631.67" fill="#111"/>
<text x="201.75" y="736.60" font-size="10.8" text-anchor="middle" textLength="10.80" lengthAdjust="spacingAndGlyphs" fill="#1a1a1a" stroke="#1a1a1a" stroke-width="0.2">P3</text>
<rect x="195.75" y="691.30" width="5.30" height="30.10" fill="#ae0e30"/>
<line x1="198.40" y1="686.50" x2="198.40" y2="696.10" stroke="#111" stroke-width="1.1"/>
<line x1="196.70" y1="686.50" x2="200.10" y2="686.50" stroke="#111" stroke-width="1.0"/>
<line x1="196.70" y1="696.10" x2="200.10" y2="696.10" stroke="#111" stroke-width="1.0"/>
<rect x="202.55" y="651.90" width="5.30" height="69.50" fill="#2d4f8b"/>
<line x1="205.20" y1="641.90" x2="205.20" y2="661.90" stroke="#111" stroke-width="1.1"/>
<line x1="203.50" y1="641.90" x2="206.90" y2="641.90" stroke="#111" stroke-width="1.0"/>
<line x1="203.50" y1="661.90" x2="206.90" y2="661.90" stroke="#111" stroke-width="1.0"/>
<line x1="197.25" y1="638.10" x2="206.45" y2="638.10" stroke="#222" stroke-width="1.3"/>
<polygon points="197.85,632.00 198.38,633.07 199.56,633.24 198.71,634.08 198.91,635.26 197.85,634.70 196.79,635.26 196.99,634.08 196.14,633.24 197.32,633.07" fill="#111"/>
<polygon points="201.85,632.00 202.38,633.07 203.56,633.24 202.71,634.08 202.91,635.26 201.85,634.70 200.79,635.26 200.99,634.08 200.14,633.24 201.32,633.07" fill="#111"/>
<polygon points="205.85,632.00 206.38,633.07 207.56,633.24 206.71,634.08 206.91,635.26 205.85,634.70 204.79,635.26 204.99,634.08 204.14,633.24 205.32,633.07" fill="#111"/>
<text x="225.28" y="736.60" font-size="10.8" text-anchor="middle" textLength="10.80" lengthAdjust="spacingAndGlyphs" fill="#1a1a1a" stroke="#1a1a1a" stroke-width="0.2">P4</text>
<rect x="219.28" y="691.30" width="5.30" height="30.10" fill="#ae0e30"/>
<line x1="221.93" y1="686.80" x2="221.93" y2="695.80" stroke="#111" stroke-width="1.1"/>
<line x1="220.23" y1="686.80" x2="223.63" y2="686.80" stroke="#111" stroke-width="1.0"/>
<line x1="220.23" y1="695.80" x2="223.63" y2="695.80" stroke="#111" stroke-width="1.0"/>
<rect x="226.08" y="641.90" width="5.30" height="79.50" fill="#2d4f8b"/>
<line x1="228.73" y1="636.40" x2="228.73" y2="647.40" stroke="#111" stroke-width="1.1"/>
<line x1="227.03" y1="636.40" x2="230.43" y2="636.40" stroke="#111" stroke-width="1.0"/>
<line x1="227.03" y1="647.40" x2="230.43" y2="647.40" stroke="#111" stroke-width="1.0"/>
<line x1="220.78" y1="631.70" x2="229.98" y2="631.70" stroke="#222" stroke-width="1.3"/>
<polygon points="221.38,625.60 221.91,626.67 223.09,626.84 222.24,627.68 222.44,628.86 221.38,628.30 220.32,628.86 220.52,627.68 219.67,626.84 220.85,626.67" fill="#111"/>
<polygon points="225.38,625.60 225.91,626.67 227.09,626.84 226.24,627.68 226.44,628.86 225.38,628.30 224.32,628.86 224.52,627.68 223.67,626.84 224.85,626.67" fill="#111"/>
<polygon points="229.38,625.60 229.91,626.67 231.09,626.84 230.24,627.68 230.44,628.86 229.38,628.30 228.32,628.86 228.52,627.68 227.67,626.84 228.85,626.67" fill="#111"/>
<text x="248.81" y="736.60" font-size="10.8" text-anchor="middle" textLength="10.80" lengthAdjust="spacingAndGlyphs" fill="#1a1a1a" stroke="#1a1a1a" stroke-width="0.2">P5</text>
<rect x="242.81" y="695.80" width="5.30" height="25.60" fill="#ae0e30"/>
<line x1="245.46" y1="692.90" x2="245.46" y2="698.70" stroke="#111" stroke-width="1.1"/>
<line x1="243.76" y1="692.90" x2="247.16" y2="692.90" stroke="#111" stroke-width="1.0"/>
<line x1="243.76" y1="698.70" x2="247.16" y2="698.70" stroke="#111" stroke-width="1.0"/>
<rect x="249.61" y="638.10" width="5.30" height="83.30" fill="#2d4f8b"/>
<line x1="252.26" y1="629.90" x2="252.26" y2="646.30" stroke="#111" stroke-width="1.1"/>
<line x1="250.56" y1="629.90" x2="253.96" y2="629.90" stroke="#111" stroke-width="1.0"/>
<line x1="250.56" y1="646.30" x2="253.96" y2="646.30" stroke="#111" stroke-width="1.0"/>
<line x1="244.31" y1="625.20" x2="253.51" y2="625.20" stroke="#222" stroke-width="1.3"/>
<polygon points="244.91,619.10 245.44,620.17 246.62,620.34 245.77,621.18 245.97,622.36 244.91,621.80 243.85,622.36 244.05,621.18 243.20,620.34 244.38,620.17" fill="#111"/>
<polygon points="248.91,619.10 249.44,620.17 250.62,620.34 249.77,621.18 249.97,622.36 248.91,621.80 247.85,622.36 248.05,621.18 247.20,620.34 248.38,620.17" fill="#111"/>
<polygon points="252.91,619.10 253.44,620.17 254.62,620.34 253.77,621.18 253.97,622.36 252.91,621.80 251.85,622.36 252.05,621.18 251.20,620.34 252.38,620.17" fill="#111"/>
<rect x="131.90" y="610.20" width="5.80" height="4.30" fill="#ae0e30"/>
<text x="141.50" y="615.20" font-size="10.8" textLength="19.30" lengthAdjust="spacingAndGlyphs" fill="#1a1a1a" stroke="#1a1a1a" stroke-width="0.2">-FAC</text>
<rect x="172.50" y="610.20" width="5.40" height="4.30" fill="#2d4f8b"/>
<text x="182.10" y="615.20" font-size="10.8" textLength="22.50" lengthAdjust="spacingAndGlyphs" fill="#1a1a1a" stroke="#1a1a1a" stroke-width="0.2">+FAC</text>
<text transform="translate(42.30,663.90) rotate(-90)" x="0" y="0" font-size="12.0" text-anchor="middle" textLength="67.00" lengthAdjust="spacingAndGlyphs" fill="#1a1a1a" stroke="#1a1a1a" stroke-width="0.2">FTH/GusB mRNA</text>
<line x1="72.50" y1="25.20" x2="72.50" y2="203.50" stroke="#000" stroke-width="1.35"/>
<line x1="68.90" y1="202.80" x2="415.70" y2="202.80" stroke="#000" stroke-width="1.5"/>
<line x1="72.50" y1="255.20" x2="72.50" y2="369.40" stroke="#000" stroke-width="1.35"/>
<line x1="71.80" y1="366.20" x2="262.70" y2="366.20" stroke="#000" stroke-width="1.5"/>
<line x1="335.60" y1="259.60" x2="335.60" y2="369.40" stroke="#000" stroke-width="1.35"/>
<line x1="334.90" y1="366.30" x2="506.30" y2="366.30" stroke="#000" stroke-width="1.5"/>
<line x1="71.80" y1="427.50" x2="71.80" y2="543.50" stroke="#000" stroke-width="1.35"/>
<line x1="71.10" y1="540.30" x2="263.20" y2="540.30" stroke="#000" stroke-width="1.5"/>
<line x1="335.60" y1="417.00" x2="335.60" y2="544.20" stroke="#000" stroke-width="1.35"/>
<line x1="334.90" y1="541.00" x2="511.80" y2="541.00" stroke="#000" stroke-width="1.5"/>
<line x1="72.50" y1="607.30" x2="72.50" y2="724.80" stroke="#000" stroke-width="1.35"/>
<line x1="71.80" y1="721.40" x2="263.80" y2="721.40" stroke="#000" stroke-width="1.5"/>
<text x="337.40" y="599.90" font-size="11.2" text-anchor="middle" textLength="11.20" lengthAdjust="spacingAndGlyphs" fill="#1a1a1a" stroke="#1a1a1a" stroke-width="0.2">C1</text>
<text x="360.00" y="599.90" font-size="11.2" text-anchor="middle" textLength="11.20" lengthAdjust="spacingAndGlyphs" fill="#1a1a1a" stroke="#1a1a1a" stroke-width="0.2">C2</text>
<text x="383.00" y="599.90" font-size="11.2" text-anchor="middle" textLength="11.20" lengthAdjust="spacingAndGlyphs" fill="#1a1a1a" stroke="#1a1a1a" stroke-width="0.2">C3</text>
<text x="403.50" y="599.90" font-size="11.2" text-anchor="middle" textLength="11.20" lengthAdjust="spacingAndGlyphs" fill="#1a1a1a" stroke="#1a1a1a" stroke-width="0.2">P1</text>
<text x="425.80" y="599.90" font-size="11.2" text-anchor="middle" textLength="11.20" lengthAdjust="spacingAndGlyphs" fill="#1a1a1a" stroke="#1a1a1a" stroke-width="0.2">P2</text>
<text x="447.60" y="599.90" font-size="11.2" text-anchor="middle" textLength="11.20" lengthAdjust="spacingAndGlyphs" fill="#1a1a1a" stroke="#1a1a1a" stroke-width="0.2">P3</text>
<text x="471.20" y="599.90" font-size="11.2" text-anchor="middle" textLength="11.20" lengthAdjust="spacingAndGlyphs" fill="#1a1a1a" stroke="#1a1a1a" stroke-width="0.2">P4</text>
<text x="494.50" y="599.90" font-size="11.2" text-anchor="middle" textLength="11.20" lengthAdjust="spacingAndGlyphs" fill="#1a1a1a" stroke="#1a1a1a" stroke-width="0.2">P5</text>
<rect x="318.30" y="603.10" width="189.90" height="34.20" fill="#ececec"/>
<rect x="318.30" y="603.10" width="189.90" height="34.20" fill="#f1f1f1"/>
<g>
<g filter="url(#b1)">
<rect x="329.50" y="604.50" width="16.00" height="29.50" fill="#dcdcdc"/>
<rect x="329.50" y="604.50" width="16.00" height="8.50" fill="#c6c6c6"/>
<rect x="329.50" y="614.00" width="16.00" height="7.00" fill="#e2e2e2"/>
<rect x="329.50" y="621.00" width="16.00" height="11.00" fill="#a0a0a0"/>
<rect x="329.50" y="624.50" width="16.00" height="6.50" fill="#0a0a0a"/>
</g>
<rect x="330.30" y="625.00" width="14.40" height="5.50" rx="1.5" fill="#000" filter="url(#b3)"/>
<g filter="url(#b1)">
<rect x="351.80" y="604.50" width="16.70" height="29.50" fill="#d4d4d4"/>
<rect x="351.80" y="606.00" width="16.70" height="6.00" fill="#c8c8c8"/>
<rect x="351.80" y="626.00" width="16.70" height="6.00" fill="#c2c2c2"/>
</g>
<g filter="url(#b1)">
<rect x="374.00" y="604.50" width="16.50" height="29.50" fill="#d8d8d8"/>
<rect x="374.00" y="606.00" width="16.50" height="6.00" fill="#cccccc"/>
<rect x="374.00" y="626.50" width="16.50" height="6.00" fill="#8a8a8a"/>
</g>
<g filter="url(#b1)">
<rect x="397.00" y="604.50" width="15.50" height="29.50" fill="#dedede"/>
<rect x="397.00" y="604.50" width="15.50" height="6.50" fill="#8c8c8c"/>
<rect x="397.00" y="610.50" width="15.50" height="5.00" fill="#2a2a2a"/>
<rect x="397.00" y="626.00" width="15.50" height="6.00" fill="#c4c4c4"/>
</g>
<rect x="398.20" y="611.00" width="13.10" height="4.00" rx="1.5" fill="#222" filter="url(#b3)"/>
<g filter="url(#b1)">
<rect x="419.00" y="604.50" width="14.50" height="29.50" fill="#dcdcdc"/>
<rect x="419.00" y="604.50" width="14.50" height="11.50" fill="#9a9a9a"/>
<rect x="419.00" y="612.00" width="14.50" height="4.00" fill="#6a6a6a"/>
<rect x="419.00" y="626.00" width="14.50" height="6.00" fill="#c6c6c6"/>
</g>
<g filter="url(#b1)">
<rect x="439.50" y="604.50" width="17.00" height="29.50" fill="#dadada"/>
<rect x="439.50" y="604.50" width="17.00" height="6.00" fill="#a8a8a8"/>
<rect x="439.50" y="610.00" width="17.00" height="6.00" fill="#101010"/>
<rect x="439.50" y="626.00" width="17.00" height="6.00" fill="#cccccc"/>
</g>
<rect x="440.30" y="610.50" width="15.40" height="5.00" rx="1.5" fill="#000" filter="url(#b3)"/>
<g filter="url(#b1)">
<rect x="462.50" y="604.50" width="17.00" height="29.50" fill="#d4d4d4"/>
<rect x="462.50" y="604.50" width="17.00" height="11.50" fill="#050505"/>
<rect x="462.50" y="619.00" width="17.00" height="14.00" fill="#bababa"/>
</g>
<rect x="463.30" y="605.00" width="15.40" height="10.50" rx="1.5" fill="#000" filter="url(#b3)"/>
<g filter="url(#b1)">
<rect x="486.50" y="604.50" width="16.50" height="29.50" fill="#d2d2d2"/>
<rect x="486.50" y="604.50" width="16.50" height="11.00" fill="#050505"/>
<rect x="486.50" y="619.00" width="16.50" height="14.00" fill="#b4b4b4"/>
<rect x="486.50" y="626.00" width="16.50" height="5.50" fill="#555555"/>
</g>
<rect x="487.30" y="605.00" width="14.90" height="10.00" rx="1.5" fill="#000" filter="url(#b3)"/>
</g>
<ellipse cx="471" cy="607.5" rx="3.5" ry="1.6" fill="#6a6a6a" filter="url(#b2)"/>
<ellipse cx="494.5" cy="607.5" rx="3.5" ry="1.5" fill="#5a5a5a" filter="url(#b2)"/>
<rect x="318.3" y="603.1" width="189.9" height="34.2" fill="none" stroke="#111" stroke-width="1.1"/>
<rect x="318.30" y="655.30" width="189.90" height="32.30" fill="#ececec"/>
<rect x="318.30" y="655.30" width="189.90" height="32.30" fill="#efefef"/>
<g filter="url(#b1)">
<rect x="326.00" y="657.00" width="18.50" height="28.00" fill="#e0e0e0"/>
<rect x="326.00" y="659.00" width="18.50" height="8.00" fill="#d4d4d4"/>
<rect x="326.00" y="674.00" width="18.50" height="8.00" fill="#d8d8d8"/>
</g>
<g filter="url(#b1)">
<rect x="349.00" y="657.00" width="18.50" height="28.00" fill="#dcdcdc"/>
<rect x="349.00" y="658.00" width="18.50" height="9.00" fill="#cccccc"/>
<rect x="349.00" y="673.00" width="18.50" height="9.00" fill="#c4c4c4"/>
</g>
<g filter="url(#b1)">
<rect x="370.00" y="657.00" width="17.00" height="28.00" fill="#dedede"/>
<rect x="370.00" y="658.00" width="17.00" height="9.00" fill="#cacaca"/>
<rect x="370.00" y="674.00" width="17.00" height="8.00" fill="#d2d2d2"/>
</g>
<g filter="url(#b1)">
<rect x="391.00" y="657.00" width="19.00" height="28.00" fill="#dcdcdc"/>
<rect x="391.00" y="656.50" width="19.00" height="12.00" fill="#a6a6a6"/>
<rect x="391.00" y="674.00" width="19.00" height="8.00" fill="#d8d8d8"/>
</g>
<g filter="url(#b1)">
<rect x="412.50" y="657.00" width="18.50" height="28.00" fill="#dadada"/>
<rect x="412.50" y="656.50" width="18.50" height="12.00" fill="#acacac"/>
<rect x="412.50" y="674.00" width="18.50" height="8.00" fill="#d2d2d2"/>
</g>
<g filter="url(#b1)">
<rect x="433.50" y="657.00" width="18.50" height="28.00" fill="#dadada"/>
<rect x="433.50" y="656.50" width="18.50" height="12.00" fill="#a8a8a8"/>
<rect x="433.50" y="674.00" width="18.50" height="8.00" fill="#d0d0d0"/>
</g>
<g filter="url(#b1)">
<rect x="456.00" y="657.00" width="19.00" height="28.00" fill="#dadada"/>
<rect x="456.00" y="656.50" width="19.00" height="12.00" fill="#acacac"/>
<rect x="456.00" y="674.00" width="19.00" height="8.00" fill="#d4d4d4"/>
</g>
<g filter="url(#b1)">
<rect x="481.00" y="657.00" width="21.50" height="28.00" fill="#dadada"/>
<rect x="481.00" y="656.50" width="21.50" height="12.00" fill="#acacac"/>
<rect x="481.00" y="674.00" width="21.50" height="8.00" fill="#d4d4d4"/>
</g>
<circle cx="358.3" cy="663.0" r="0.8" fill="#333"/>
<circle cx="378.5" cy="676.6" r="1.1" fill="#333"/>
<circle cx="370.8" cy="660.7" r="0.7" fill="#333"/>
<circle cx="461.0" cy="663.5" r="0.7" fill="#333"/>
<circle cx="478.0" cy="663.5" r="0.6" fill="#333"/>
<rect x="318.3" y="655.3" width="189.9" height="32.3" fill="none" stroke="#111" stroke-width="1.1"/>
<rect x="318.30" y="705.30" width="189.90" height="32.90" fill="#ececec"/>
<rect x="318.30" y="705.30" width="189.90" height="32.90" fill="#f2f2f2"/>
<g filter="url(#b1)">
<rect x="325.60" y="706.00" width="18.30" height="30.00" fill="#9c9c9c"/>
<rect x="325.60" y="706.00" width="18.30" height="5.00" fill="#acacac"/>
<rect x="325.60" y="711.00" width="18.30" height="7.00" fill="#747474"/>
<rect x="325.60" y="718.50" width="18.30" height="4.00" fill="#a8a8a8"/>
<rect x="325.60" y="723.50" width="18.30" height="10.50" fill="#080808"/>
</g>
<rect x="326.40" y="724.50" width="16.70" height="8.50" rx="1.5" fill="#080808" filter="url(#b3)"/>
<g filter="url(#b1)">
<rect x="349.70" y="706.00" width="18.30" height="30.00" fill="#9c9c9c"/>
<rect x="349.70" y="706.00" width="18.30" height="5.00" fill="#acacac"/>
<rect x="349.70" y="711.00" width="18.30" height="7.00" fill="#747474"/>
<rect x="349.70" y="718.50" width="18.30" height="4.00" fill="#a8a8a8"/>
<rect x="349.70" y="723.50" width="18.30" height="10.50" fill="#3a3a3a"/>
</g>
<rect x="350.50" y="724.50" width="16.70" height="8.50" rx="1.5" fill="#3a3a3a" filter="url(#b3)"/>
<g filter="url(#b1)">
<rect x="373.70" y="706.00" width="16.30" height="30.00" fill="#9c9c9c"/>
<rect x="373.70" y="706.00" width="16.30" height="5.00" fill="#acacac"/>
<rect x="373.70" y="711.00" width="16.30" height="7.00" fill="#747474"/>
<rect x="373.70" y="718.50" width="16.30" height="4.00" fill="#a8a8a8"/>
<rect x="373.70" y="723.50" width="16.30" height="10.50" fill="#333333"/>
</g>
<rect x="374.50" y="724.50" width="14.70" height="8.50" rx="1.5" fill="#333333" filter="url(#b3)"/>
<g filter="url(#b1)">
<rect x="395.80" y="706.00" width="16.20" height="30.00" fill="#9c9c9c"/>
<rect x="395.80" y="706.00" width="16.20" height="5.00" fill="#acacac"/>
<rect x="395.80" y="711.00" width="16.20" height="7.00" fill="#747474"/>
<rect x="395.80" y="718.50" width="16.20" height="4.00" fill="#a8a8a8"/>
<rect x="395.80" y="723.50" width="16.20" height="10.50" fill="#505050"/>
</g>
<rect x="396.60" y="724.50" width="14.60" height="8.50" rx="1.5" fill="#505050" filter="url(#b3)"/>
<g filter="url(#b1)">
<rect x="416.70" y="706.00" width="15.40" height="30.00" fill="#9c9c9c"/>
<rect x="416.70" y="706.00" width="15.40" height="5.00" fill="#acacac"/>
<rect x="416.70" y="711.00" width="15.40" height="7.00" fill="#747474"/>
<rect x="416.70" y="718.50" width="15.40" height="4.00" fill="#a8a8a8"/>
<rect x="416.70" y="723.50" width="15.40" height="10.50" fill="#444444"/>
</g>
<rect x="417.50" y="724.50" width="13.80" height="8.50" rx="1.5" fill="#444444" filter="url(#b3)"/>
<g filter="url(#b1)">
<rect x="437.90" y="706.00" width="15.40" height="30.00" fill="#9c9c9c"/>
<rect x="437.90" y="706.00" width="15.40" height="5.00" fill="#acacac"/>
<rect x="437.90" y="711.00" width="15.40" height="7.00" fill="#747474"/>
<rect x="437.90" y="718.50" width="15.40" height="4.00" fill="#a8a8a8"/>
<rect x="437.90" y="723.50" width="15.40" height="10.50" fill="#2a2a2a"/>
</g>
<rect x="438.70" y="724.50" width="13.80" height="8.50" rx="1.5" fill="#2a2a2a" filter="url(#b3)"/>
<g filter="url(#b1)">
<rect x="459.00" y="706.00" width="17.30" height="30.00" fill="#9c9c9c"/>
<rect x="459.00" y="706.00" width="17.30" height="5.00" fill="#acacac"/>
<rect x="459.00" y="711.00" width="17.30" height="7.00" fill="#747474"/>
<rect x="459.00" y="718.50" width="17.30" height="4.00" fill="#a8a8a8"/>
<rect x="459.00" y="723.50" width="17.30" height="10.50" fill="#141414"/>
</g>
<rect x="459.80" y="724.50" width="15.70" height="8.50" rx="1.5" fill="#141414" filter="url(#b3)"/>
<g filter="url(#b1)">
<rect x="483.00" y="706.00" width="21.20" height="30.00" fill="#9c9c9c"/>
<rect x="483.00" y="706.00" width="21.20" height="5.00" fill="#acacac"/>
<rect x="483.00" y="711.00" width="21.20" height="7.00" fill="#747474"/>
<rect x="483.00" y="718.50" width="21.20" height="4.00" fill="#a8a8a8"/>
<rect x="483.00" y="723.50" width="21.20" height="10.50" fill="#080808"/>
</g>
<rect x="483.80" y="724.50" width="19.60" height="8.50" rx="1.5" fill="#080808" filter="url(#b3)"/>
<rect x="318.3" y="705.3" width="189.9" height="32.9" fill="none" stroke="#111" stroke-width="1.1"/>
<text x="315.00" y="616.80" font-size="11.2" text-anchor="end" textLength="19.40" lengthAdjust="spacingAndGlyphs" fill="#1a1a1a" stroke="#1a1a1a" stroke-width="0.2">IRP2</text>
<text x="315.00" y="631.80" font-size="11.2" text-anchor="end" textLength="19.40" lengthAdjust="spacingAndGlyphs" fill="#1a1a1a" stroke="#1a1a1a" stroke-width="0.2">IRP1</text>
<text x="315.00" y="668.20" font-size="11.2" text-anchor="end" textLength="19.40" lengthAdjust="spacingAndGlyphs" fill="#1a1a1a" stroke="#1a1a1a" stroke-width="0.2">IRP2</text>
<text x="315.00" y="682.10" font-size="11.2" text-anchor="end" textLength="19.40" lengthAdjust="spacingAndGlyphs" fill="#1a1a1a" stroke="#1a1a1a" stroke-width="0.2">IRP1</text>
<text x="315.00" y="718.80" font-size="11.2" text-anchor="end" textLength="19.40" lengthAdjust="spacingAndGlyphs" fill="#1a1a1a" stroke="#1a1a1a" stroke-width="0.2">IRP2</text>
<text x="315.00" y="732.60" font-size="11.2" text-anchor="end" textLength="19.40" lengthAdjust="spacingAndGlyphs" fill="#1a1a1a" stroke="#1a1a1a" stroke-width="0.2">IRP1</text>
<text x="402.70" y="649.50" font-size="11.0" textLength="21.50" lengthAdjust="spacingAndGlyphs" fill="#1a1a1a" stroke="#1a1a1a" stroke-width="0.2">-FAC</text>
<text x="401.50" y="699.90" font-size="11.0" textLength="24.30" lengthAdjust="spacingAndGlyphs" fill="#1a1a1a" stroke="#1a1a1a" stroke-width="0.2">+FAC</text>
<text x="391.20" y="750.70" font-size="11.0" textLength="53.80" lengthAdjust="spacingAndGlyphs" fill="#1a1a1a" stroke="#1a1a1a" stroke-width="0.2">+FAC + DFP</text>
</svg></body></html>
